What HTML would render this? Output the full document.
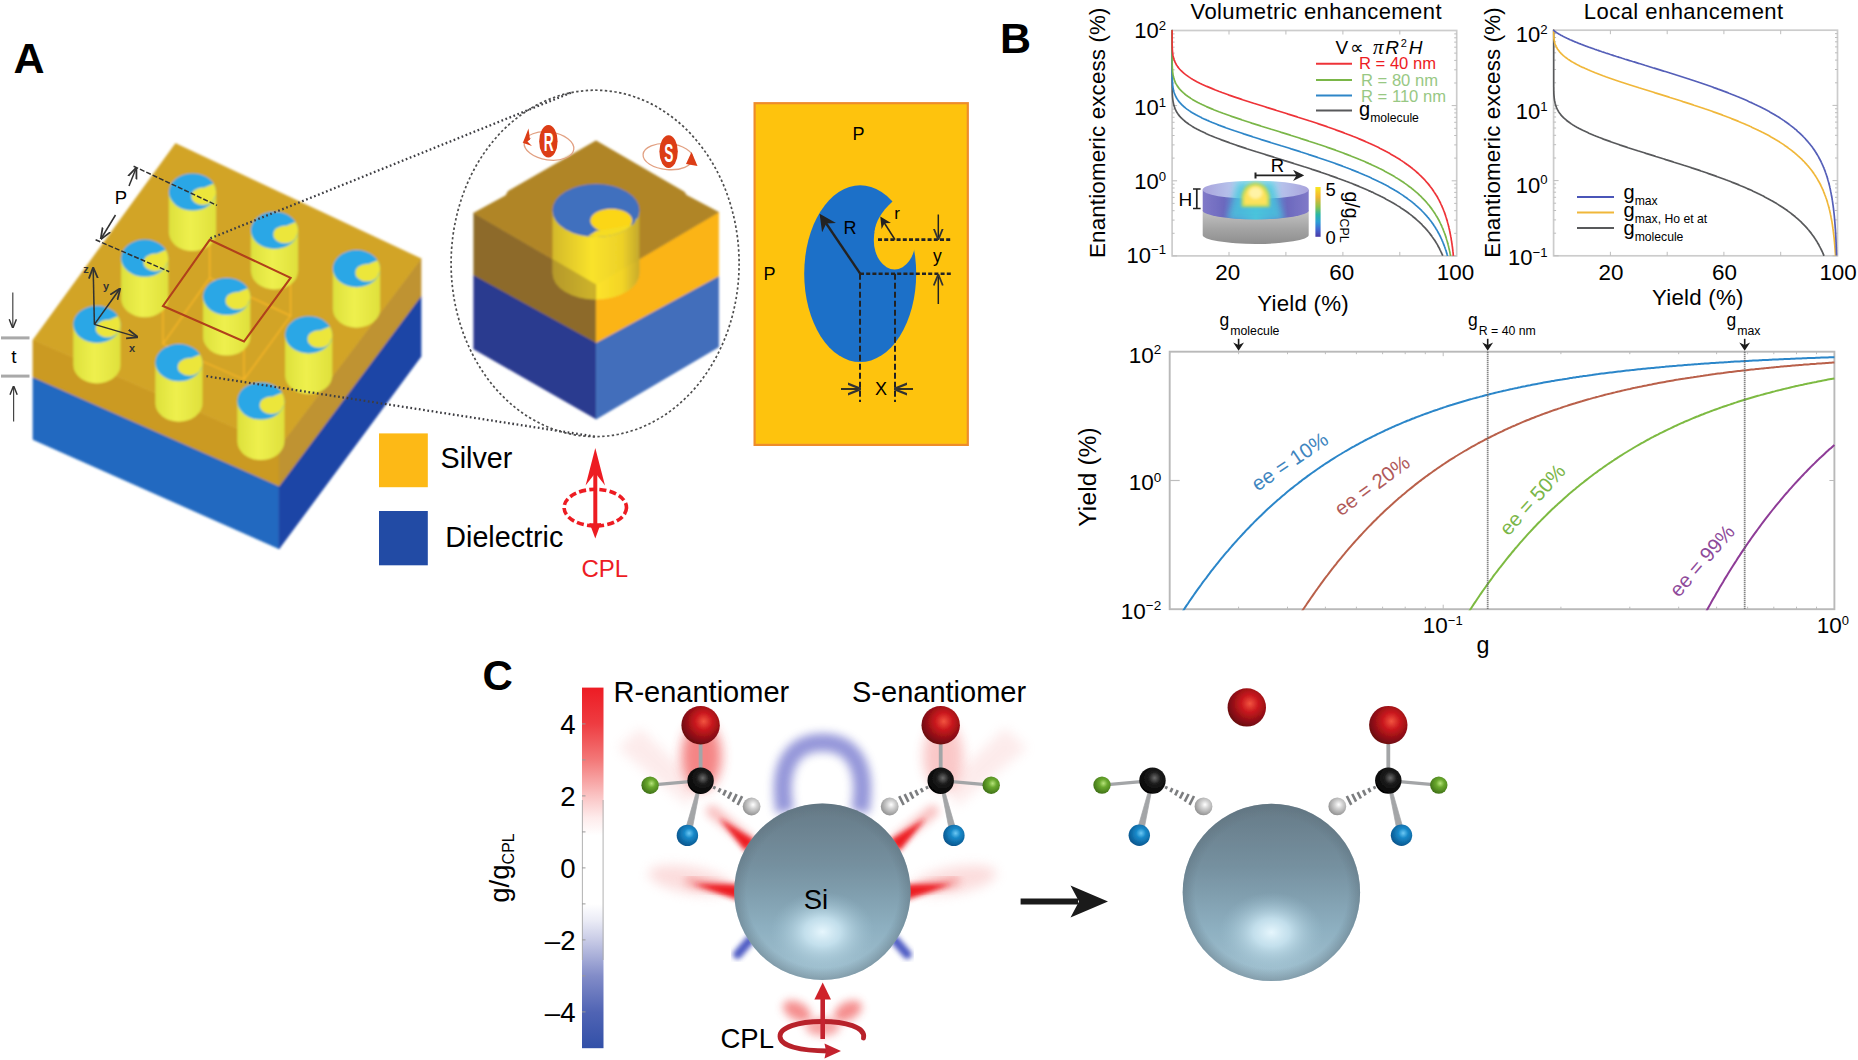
<!DOCTYPE html>
<html lang="en">
<head>
<meta charset="utf-8">
<title>Figure</title>
<style>
html,body{margin:0;padding:0;background:#fff;}
body{width:1858px;height:1060px;overflow:hidden;}
svg{display:block;font-family:'Liberation Sans', Arial, Helvetica, sans-serif;}
</style>
</head>
<body>
<svg width="1858" height="1060" viewBox="0 0 1858 1060">
<defs>
<filter id="blA" x="-5%" y="-5%" width="110%" height="110%"><feGaussianBlur stdDeviation="0.9"/></filter>
<filter id="blA2" x="-5%" y="-5%" width="110%" height="110%"><feGaussianBlur stdDeviation="0.5"/></filter>
<linearGradient id="cylg" x1="0" x2="1" y1="0" y2="0"><stop offset="0" stop-color="#dde03c"/><stop offset="0.45" stop-color="#eef04e"/><stop offset="1" stop-color="#dfe03c"/></linearGradient>
<linearGradient id="cylg2" x1="0" x2="1" y1="0" y2="0"><stop offset="0" stop-color="#d6bd2a"/><stop offset="0.45" stop-color="#ffea2c"/><stop offset="0.8" stop-color="#f2d728"/><stop offset="1" stop-color="#c4aa2e"/></linearGradient>
<marker id="arK" viewBox="0 0 10 10" refX="8" refY="5" markerWidth="7" markerHeight="7" orient="auto-start-reverse"><path d="M0,0 L10,5 L0,10 L3,5 Z" fill="#222"/></marker>
<marker id="arK2" viewBox="0 0 10 10" refX="8" refY="5" markerWidth="7.5" markerHeight="7.5" orient="auto-start-reverse"><path d="M0,1 L10,5 L0,9" fill="none" stroke="#333" stroke-width="1.6"/></marker>
<linearGradient id="dgray" x1="0" x2="0" y1="0" y2="1"><stop offset="0" stop-color="#c4c4c4"/><stop offset="0.55" stop-color="#a4a4a4"/><stop offset="1" stop-color="#8e8e8e"/></linearGradient>
<linearGradient id="dpurp" x1="0" x2="1" y1="0" y2="0"><stop offset="0" stop-color="#8079c8"/><stop offset="0.2" stop-color="#6c69be"/><stop offset="0.36" stop-color="#5a8fd6"/><stop offset="0.5" stop-color="#52c2dc"/><stop offset="0.64" stop-color="#5a8fd6"/><stop offset="0.8" stop-color="#6c69be"/><stop offset="1" stop-color="#8079c8"/></linearGradient>
<linearGradient id="dtop" x1="0" x2="1" y1="0" y2="0"><stop offset="0" stop-color="#a9a3dc"/><stop offset="0.25" stop-color="#b5c0ea"/><stop offset="0.36" stop-color="#9fdcf0"/><stop offset="0.5" stop-color="#b6e7e4"/><stop offset="0.64" stop-color="#9fdcf0"/><stop offset="0.75" stop-color="#b5c0ea"/><stop offset="1" stop-color="#a9a3dc"/></linearGradient>
<radialGradient id="dhot" cx="0.5" cy="0.55" r="0.5"><stop offset="0" stop-color="#fff6a0"/><stop offset="0.45" stop-color="#fbe04e"/><stop offset="0.7" stop-color="#c9dc52" stop-opacity="0.95"/><stop offset="1" stop-color="#4fc4c0" stop-opacity="0"/></radialGradient>
<linearGradient id="parula" x1="0" x2="0" y1="0" y2="1"><stop offset="0" stop-color="#f9e721"/><stop offset="0.2" stop-color="#f2b632"/><stop offset="0.4" stop-color="#8cc24c"/><stop offset="0.55" stop-color="#2bb7a4"/><stop offset="0.7" stop-color="#2d9fd6"/><stop offset="0.85" stop-color="#4267d2"/><stop offset="1" stop-color="#4b3aa6"/></linearGradient>
<filter id="blB" x="-5%" y="-10%" width="110%" height="120%"><feGaussianBlur stdDeviation="0.6"/></filter>
<filter id="blB3" x="-20%" y="-20%" width="140%" height="140%"><feGaussianBlur stdDeviation="1.1"/></filter>
<filter id="blB4" x="-30%" y="-30%" width="160%" height="160%"><feGaussianBlur stdDeviation="3"/></filter>
<filter id="blB2" x="-20%" y="-20%" width="140%" height="140%"><feGaussianBlur stdDeviation="1.6"/></filter>
<linearGradient id="rwb" x1="0" x2="0" y1="0" y2="1"><stop offset="0" stop-color="#ed1c24"/><stop offset="0.1" stop-color="#ee3c41"/><stop offset="0.2" stop-color="#f37878"/><stop offset="0.3" stop-color="#fac3c3"/><stop offset="0.36" stop-color="#feebeb"/><stop offset="0.41" stop-color="#ffffff"/><stop offset="0.6" stop-color="#ffffff"/><stop offset="0.645" stop-color="#ebecf6"/><stop offset="0.7" stop-color="#c8cbe6"/><stop offset="0.8" stop-color="#828cc8"/><stop offset="0.9" stop-color="#5064b4"/><stop offset="1" stop-color="#3250a8"/></linearGradient>
<filter id="blC" x="-5%" y="-5%" width="110%" height="110%"><feGaussianBlur stdDeviation="0.6"/></filter>
<filter id="glow4" x="-50%" y="-50%" width="200%" height="200%"><feGaussianBlur stdDeviation="4"/></filter>
<filter id="glow5" x="-50%" y="-50%" width="200%" height="200%"><feGaussianBlur stdDeviation="5"/></filter>
<filter id="glow6" x="-50%" y="-50%" width="200%" height="200%"><feGaussianBlur stdDeviation="6"/></filter>
<filter id="glow25" x="-50%" y="-50%" width="200%" height="200%"><feGaussianBlur stdDeviation="2.5"/></filter>
<linearGradient id="sphL" x1="0" x2="0" y1="0" y2="1"><stop offset="0" stop-color="#667a87"/><stop offset="0.35" stop-color="#75909f"/><stop offset="0.7" stop-color="#8dafc0"/><stop offset="1" stop-color="#a3c3d2"/></linearGradient>
<radialGradient id="sphH" cx="0.5" cy="0.5" r="0.5"><stop offset="0" stop-color="#e6f6fd" stop-opacity="1"/><stop offset="0.35" stop-color="#cfeaf6" stop-opacity="0.8"/><stop offset="1" stop-color="#9fc2d2" stop-opacity="0"/></radialGradient>
<radialGradient id="sphE" cx="0.5" cy="0.5" r="0.5"><stop offset="0.86" stop-color="#5d707c" stop-opacity="0"/><stop offset="1" stop-color="#5d707c" stop-opacity="0.45"/></radialGradient>
<radialGradient id="bRed" cx="0.58" cy="0.40" r="0.66"><stop offset="0" stop-color="#f2543f"/><stop offset="0.35" stop-color="#c8161d"/><stop offset="1" stop-color="#5e0a0e"/></radialGradient>
<radialGradient id="bBlk" cx="0.58" cy="0.40" r="0.66"><stop offset="0" stop-color="#6b6b6b"/><stop offset="0.35" stop-color="#1c1c1c"/><stop offset="1" stop-color="#000000"/></radialGradient>
<radialGradient id="bGrn" cx="0.58" cy="0.40" r="0.66"><stop offset="0" stop-color="#b6e27a"/><stop offset="0.35" stop-color="#6aa92e"/><stop offset="1" stop-color="#3a6a14"/></radialGradient>
<radialGradient id="bBlu" cx="0.58" cy="0.40" r="0.66"><stop offset="0" stop-color="#6cc8f4"/><stop offset="0.35" stop-color="#1688c8"/><stop offset="1" stop-color="#0a4f86"/></radialGradient>
<radialGradient id="bWht" cx="0.58" cy="0.40" r="0.66"><stop offset="0" stop-color="#ffffff"/><stop offset="0.35" stop-color="#d2d2d2"/><stop offset="1" stop-color="#8a8a8a"/></radialGradient>
<linearGradient id="lobeL" x1="1" x2="0" y1="0" y2="0"><stop offset="0" stop-color="#ed1c24" stop-opacity="1"/><stop offset="0.3" stop-color="#ee3a40" stop-opacity="0.9"/><stop offset="0.65" stop-color="#f59a9a" stop-opacity="0.55"/><stop offset="1" stop-color="#fbd5d5" stop-opacity="0"/></linearGradient>
</defs>
<rect x="0" y="0" width="1858" height="1060" fill="#ffffff"/>
<text x="13.5" y="73.0" font-size="43.0" fill="#000" font-weight="bold" >A</text>
<g filter="url(#blA)">
<polygon points="33.0,377.0 279.1,486.0 279.1,548.8 33.0,439.5" fill="#2469c0" stroke="#2469c0" stroke-width="0.7" stroke-linejoin="round" />
<polygon points="279.1,486.0 421.0,296.0 421.0,356.5 279.1,548.8" fill="#1d45a6" stroke="#1d45a6" stroke-width="0.7" stroke-linejoin="round" />
<polygon points="33.0,340.0 279.1,447.0 279.1,486.0 33.0,377.0" fill="#cb9a20" stroke="#cb9a20" stroke-width="0.7" stroke-linejoin="round" />
<polygon points="279.1,447.0 421.0,258.7 421.0,296.0 279.1,486.0" fill="#bf9330" stroke="#bf9330" stroke-width="0.7" stroke-linejoin="round" />
<polygon points="175.5,143.5 421.0,258.7 279.1,447.0 33.0,340.0" fill="#d2a427" stroke="#d2a427" stroke-width="0.7" stroke-linejoin="round" />
<g stroke="#fbb829" stroke-width="1.3" fill="none" opacity="0.95">
<polygon points="209.7,277.8 290.6,315.8 244.0,379.5 163.0,344.0"/>
<line x1="209.7" y1="239.8" x2="209.7" y2="277.8"/>
<line x1="290.6" y1="277.8" x2="290.6" y2="315.8"/>
<line x1="244.0" y1="341.5" x2="244.0" y2="379.5"/>
<line x1="163.0" y1="306.0" x2="163.0" y2="344.0"/>
</g>
<path d="M168.9,192.0 L168.9,232.5 A23.6,18.6 0 0 0 216.1,232.5 L216.1,192.0 Z" fill="url(#cylg)"/>
<ellipse cx="192.5" cy="192.0" rx="23.6" ry="18.6" fill="#2aa7e6"/>
<clipPath id="ct2117"><ellipse cx="192.5" cy="192.0" rx="23.6" ry="18.6"/></clipPath>
<g clip-path="url(#ct2117)"><ellipse cx="203.0" cy="196.2" rx="11.6" ry="8.8" fill="#ece63a"/><path d="M204.5,187.5 L222.5,180.0 L222.5,197.0 L208.5,197.0 Z" fill="#ece63a"/></g>
<path d="M250.9,230.3 L250.9,270.8 A23.6,18.6 0 0 0 298.1,270.8 L298.1,230.3 Z" fill="url(#cylg)"/>
<ellipse cx="274.5" cy="230.3" rx="23.6" ry="18.6" fill="#2aa7e6"/>
<clipPath id="ct2975"><ellipse cx="274.5" cy="230.3" rx="23.6" ry="18.6"/></clipPath>
<g clip-path="url(#ct2975)"><ellipse cx="285.0" cy="234.5" rx="11.6" ry="8.8" fill="#ece63a"/><path d="M286.5,225.8 L304.5,218.3 L304.5,235.3 L290.5,235.3 Z" fill="#ece63a"/></g>
<path d="M121.1,258.2 L121.1,298.7 A23.6,18.6 0 0 0 168.3,298.7 L168.3,258.2 Z" fill="url(#cylg)"/>
<ellipse cx="144.7" cy="258.2" rx="23.6" ry="18.6" fill="#2aa7e6"/>
<clipPath id="ct1705"><ellipse cx="144.7" cy="258.2" rx="23.6" ry="18.6"/></clipPath>
<g clip-path="url(#ct1705)"><ellipse cx="155.2" cy="262.4" rx="11.6" ry="8.8" fill="#ece63a"/><path d="M156.7,253.7 L174.7,246.2 L174.7,263.2 L160.7,263.2 Z" fill="#ece63a"/></g>
<path d="M332.9,268.6 L332.9,309.1 A23.6,18.6 0 0 0 380.1,309.1 L380.1,268.6 Z" fill="url(#cylg)"/>
<ellipse cx="356.5" cy="268.6" rx="23.6" ry="18.6" fill="#2aa7e6"/>
<clipPath id="ct3833"><ellipse cx="356.5" cy="268.6" rx="23.6" ry="18.6"/></clipPath>
<g clip-path="url(#ct3833)"><ellipse cx="367.0" cy="272.8" rx="11.6" ry="8.8" fill="#ece63a"/><path d="M368.5,264.1 L386.5,256.6 L386.5,273.6 L372.5,273.6 Z" fill="#ece63a"/></g>
<path d="M203.1,296.5 L203.1,337.0 A23.6,18.6 0 0 0 250.3,337.0 L250.3,296.5 Z" fill="url(#cylg)"/>
<ellipse cx="226.7" cy="296.5" rx="23.6" ry="18.6" fill="#2aa7e6"/>
<clipPath id="ct2563"><ellipse cx="226.7" cy="296.5" rx="23.6" ry="18.6"/></clipPath>
<g clip-path="url(#ct2563)"><ellipse cx="237.2" cy="300.7" rx="11.6" ry="8.8" fill="#ece63a"/><path d="M238.7,292.0 L256.7,284.5 L256.7,301.5 L242.7,301.5 Z" fill="#ece63a"/></g>
<path d="M73.3,324.4 L73.3,364.9 A23.6,18.6 0 0 0 120.5,364.9 L120.5,324.4 Z" fill="url(#cylg)"/>
<ellipse cx="96.9" cy="324.4" rx="23.6" ry="18.6" fill="#2aa7e6"/>
<clipPath id="ct1293"><ellipse cx="96.9" cy="324.4" rx="23.6" ry="18.6"/></clipPath>
<g clip-path="url(#ct1293)"><ellipse cx="107.4" cy="328.6" rx="11.6" ry="8.8" fill="#ece63a"/><path d="M108.9,319.9 L126.9,312.4 L126.9,329.4 L112.9,329.4 Z" fill="#ece63a"/></g>
<path d="M285.1,334.8 L285.1,375.3 A23.6,18.6 0 0 0 332.3,375.3 L332.3,334.8 Z" fill="url(#cylg)"/>
<ellipse cx="308.7" cy="334.8" rx="23.6" ry="18.6" fill="#2aa7e6"/>
<clipPath id="ct3421"><ellipse cx="308.7" cy="334.8" rx="23.6" ry="18.6"/></clipPath>
<g clip-path="url(#ct3421)"><ellipse cx="319.2" cy="339.0" rx="11.6" ry="8.8" fill="#ece63a"/><path d="M320.7,330.3 L338.7,322.8 L338.7,339.8 L324.7,339.8 Z" fill="#ece63a"/></g>
<path d="M155.3,362.7 L155.3,403.2 A23.6,18.6 0 0 0 202.5,403.2 L202.5,362.7 Z" fill="url(#cylg)"/>
<ellipse cx="178.9" cy="362.7" rx="23.6" ry="18.6" fill="#2aa7e6"/>
<clipPath id="ct2151"><ellipse cx="178.9" cy="362.7" rx="23.6" ry="18.6"/></clipPath>
<g clip-path="url(#ct2151)"><ellipse cx="189.4" cy="366.9" rx="11.6" ry="8.8" fill="#ece63a"/><path d="M190.9,358.2 L208.9,350.7 L208.9,367.7 L194.9,367.7 Z" fill="#ece63a"/></g>
<path d="M237.3,401.0 L237.3,441.5 A23.6,18.6 0 0 0 284.5,441.5 L284.5,401.0 Z" fill="url(#cylg)"/>
<ellipse cx="260.9" cy="401.0" rx="23.6" ry="18.6" fill="#2aa7e6"/>
<clipPath id="ct3010"><ellipse cx="260.9" cy="401.0" rx="23.6" ry="18.6"/></clipPath>
<g clip-path="url(#ct3010)"><ellipse cx="271.4" cy="405.2" rx="11.6" ry="8.8" fill="#ece63a"/><path d="M272.9,396.5 L290.9,389.0 L290.9,406.0 L276.9,406.0 Z" fill="#ece63a"/></g>
</g>
<g filter="url(#blA2)">
<polygon points="209.7,239.8 290.6,277.8 244.0,341.5 163.0,306.0" fill="none" stroke="#b0401a" stroke-width="2.1"/>
<g stroke="#303030" stroke-width="1.5" fill="none">
<line x1="133.6" y1="166.2" x2="217" y2="205.4" stroke-dasharray="5 2"/>
<line x1="95.6" y1="239.8" x2="169.2" y2="271.7" stroke-dasharray="5 2"/>
<line x1="129" y1="186" x2="135.6" y2="169.5" marker-end="url(#arK2)"/>
<line x1="115.5" y1="215" x2="101.8" y2="237.5" marker-end="url(#arK2)"/>
<line x1="94.4" y1="324.4" x2="93.2" y2="269.5" marker-end="url(#arK2)"/>
<line x1="94.4" y1="324.4" x2="119" y2="290" marker-end="url(#arK2)"/>
<line x1="94.4" y1="324.4" x2="136" y2="336.6" marker-end="url(#arK2)"/>
</g>
</g>
<text x="120.9" y="203.6" font-size="18.5" fill="#000" text-anchor="middle" >P</text>
<text x="86.0" y="273.0" font-size="11.0" fill="#333" text-anchor="middle" font-weight="bold" >z</text>
<text x="106.0" y="290.0" font-size="11.0" fill="#333" text-anchor="middle" font-weight="bold" >y</text>
<text x="132.0" y="352.0" font-size="11.0" fill="#333" text-anchor="middle" font-weight="bold" >x</text>
<g filter="url(#blA2)">
<rect x="1" y="336.4" width="28.5" height="3" fill="#a9a9a9"/>
<rect x="1" y="374.6" width="28.5" height="3" fill="#a9a9a9"/>
<g stroke="#444" stroke-width="1.2" fill="none">
<line x1="12.8" y1="292.5" x2="12.8" y2="326.5" marker-end="url(#arK2)"/>
<line x1="13.6" y1="421.5" x2="13.6" y2="387.5" marker-end="url(#arK2)"/>
</g></g>
<text x="14.0" y="362.5" font-size="19.0" fill="#000" text-anchor="middle" >t</text>
<g fill="none" stroke="#3d3d42" stroke-width="2.3" stroke-dasharray="1.7 2.6" filter="url(#blA2)">
<path d="M210.4,238.3 L572.5,92.1"/>
<path d="M206.4,376.2 L595,436.6"/>
</g>
<ellipse cx="595.1" cy="263.4" rx="144" ry="173.2" fill="none" stroke="#4d4d4d" stroke-width="1.7" stroke-dasharray="2.4 2.4" filter="url(#blA2)"/>
<g filter="url(#blA)">
<polygon points="473.8,275.0 596.2,342.5 596.2,419.0 473.8,349.0" fill="#2b3a8f" stroke="#2b3a8f" stroke-width="0.7" stroke-linejoin="round" />
<polygon points="596.2,342.5 718.6,276.0 718.6,347.0 596.2,419.0" fill="#426ebb" stroke="#426ebb" stroke-width="0.7" stroke-linejoin="round" />
<polygon points="473.8,213.0 596.2,284.5 596.2,342.5 473.8,275.0" fill="#8d6b29" stroke="#8d6b29" stroke-width="0.7" stroke-linejoin="round" />
<polygon points="596.2,284.5 718.6,212.2 718.6,276.0 596.2,342.5" fill="#fbb419" stroke="#fbb419" stroke-width="0.7" stroke-linejoin="round" />
<polygon points="596.0,140.8 684.3,192.0 686.4,195.2 718.6,212.2 596.2,284.5 473.8,213.0 505.8,195.6 508.2,191.2" fill="#b08526" stroke="#b08526" stroke-width="0.7" stroke-linejoin="round" />
<path d="M552.5,210.5 L552.5,273.0 A43.5,26.5 0 0 0 639.5,273.0 L639.5,210.5 Z" fill="url(#cylg2)" opacity="0.93"/>
<clipPath id="cubeL"><polygon points="473.8,213.0 596.2,284.5 596.2,342.5 473.8,275.0"/></clipPath>
<clipPath id="cubeR"><polygon points="596.2,284.5 718.6,212.2 718.6,276.0 596.2,342.5"/></clipPath>
<path clip-path="url(#cubeL)" d="M552.5,210.5 L552.5,273.0 A43.5,26.5 0 0 0 639.5,273.0 L639.5,210.5 Z" fill="#8d6b29" opacity="0.4"/>
<ellipse cx="596.0" cy="210.5" rx="43.5" ry="26.5" fill="#3f6fbe"/>
<clipPath id="cubeTop"><ellipse cx="596.0" cy="210.5" rx="43.5" ry="26.5"/></clipPath>
<g clip-path="url(#cubeTop)">
<ellipse cx="611.3" cy="220.6" rx="21" ry="11.8" fill="#fbd618"/>
<path d="M596,231 L634,224.5 L636,219 L645,219 L645,245 L575,245 Z" fill="#f6dc24"/>
</g>
</g>
<g filter="url(#blA2)">
<ellipse cx="549" cy="146" rx="25" ry="14" fill="none" stroke="#e2a183" stroke-width="1.3" transform="rotate(8 549 146)"/>
<ellipse cx="548.4" cy="141.3" rx="9.2" ry="16.3" fill="#dc3c14"/>
<path d="M528.5,128.5 L530,139.8 L523,142.5 Z" fill="#dc3c14"/><path d="M522.5,142.8 L531.5,137.5 L527.5,141.5 L532,146 Z" fill="#dc3c14"/>
<ellipse cx="668" cy="156.6" rx="25" ry="13" fill="none" stroke="#e2a183" stroke-width="1.3" transform="rotate(5 668 156.6)"/>
<ellipse cx="668.6" cy="151.6" rx="9.2" ry="16.3" fill="#dc3c14"/>
<path d="M691.5,152 L697.5,166 L686,164 Z" fill="#dc3c14"/>
</g>
<text x="548.6" y="151.5" font-size="25.0" fill="#fff" text-anchor="middle" font-weight="bold" transform="translate(548.6 0) scale(0.55 1) translate(-548.6 0)">R</text>
<text x="668.8" y="162.0" font-size="25.0" fill="#fff" text-anchor="middle" font-weight="bold" transform="translate(668.8 0) scale(0.55 1) translate(-668.8 0)">S</text>
<rect x="379" y="433.4" width="48.8" height="53.8" fill="#fdb913" filter="url(#blA2)"/>
<rect x="379" y="511" width="48.8" height="54.3" fill="#234ba5" filter="url(#blA2)"/>
<text x="440.5" y="467.6" font-size="28.7" fill="#000" >Silver</text>
<text x="445.3" y="546.6" font-size="28.7" fill="#000" >Dielectric</text>
<g filter="url(#blA2)">
<ellipse cx="595.3" cy="507.6" rx="31.2" ry="18.3" fill="none" stroke="#ed1c24" stroke-width="3.6" stroke-dasharray="7 3.2"/>
<line x1="595.3" y1="468" x2="595.3" y2="527" stroke="#ed1c24" stroke-width="4"/><line x1="589.5" y1="524.5" x2="601" y2="524.5" stroke="#ed1c24" stroke-width="2.5"/>
<path d="M595.3,448 L605,485.5 L595.3,473 L585.6,485.5 Z" fill="#ed1c24"/>
<path d="M595.3,538.5 L589.5,523 L595.3,526 L601,523 Z" fill="#ed1c24"/>
</g>
<text x="581.5" y="576.6" font-size="24.0" fill="#ed1c24" >CPL</text>
<g filter="url(#blA2)">
<rect x="754.6" y="103.2" width="213.2" height="341.7" fill="#fec311" stroke="#ee8c2c" stroke-width="2.2"/>
<ellipse cx="860.2" cy="273.7" rx="56" ry="88.4" fill="#1f70c8"/>
<clipPath id="notch"><ellipse cx="860.2" cy="273.7" rx="58" ry="91"/></clipPath>
<ellipse cx="894.6" cy="239.9" rx="20.8" ry="29.6" fill="#fec311"/>
<path d="M874.5,232 C875.5,222 881,212 892.5,201.5 L935,201.5 L935,246 L895,246 Z" fill="#fec311"/>
<g stroke="#222" stroke-width="2" fill="none">
<line x1="878" y1="239.6" x2="952" y2="239.6" stroke-dasharray="4 2.2" stroke-width="2.6"/>
<line x1="860" y1="273.7" x2="952" y2="273.7" stroke-dasharray="4 2.2" stroke-width="2.6"/>
<line x1="860" y1="273.7" x2="860" y2="402" stroke-dasharray="6 3" stroke-width="2"/>
<line x1="895" y1="273.7" x2="895" y2="402" stroke-dasharray="6 3" stroke-width="2"/>
<line x1="860.2" y1="273.7" x2="821.5" y2="216.5" stroke-width="2.4" marker-end="url(#arK)"/>
<line x1="895" y1="239.6" x2="881.5" y2="218.5" stroke-width="1.6" marker-end="url(#arK)"/>
<line x1="938.3" y1="214.5" x2="938.3" y2="237.5" stroke-width="1.5" marker-end="url(#arK2)"/>
<line x1="938.3" y1="304" x2="938.3" y2="276.5" stroke-width="1.5" marker-end="url(#arK2)"/>
<line x1="841" y1="389" x2="858.5" y2="389" stroke-width="1.8" marker-end="url(#arK2)"/>
<line x1="913" y1="389" x2="896.5" y2="389" stroke-width="1.8" marker-end="url(#arK2)"/>
</g>
</g>
<text x="858.4" y="139.6" font-size="18.0" fill="#000" text-anchor="middle" >P</text>
<text x="769.4" y="280.2" font-size="18.0" fill="#000" text-anchor="middle" >P</text>
<text x="850.0" y="233.5" font-size="18.0" fill="#000" text-anchor="middle" >R</text>
<text x="897.0" y="218.5" font-size="17.0" fill="#000" text-anchor="middle" >r</text>
<text x="937.3" y="261.5" font-size="17.5" fill="#000" text-anchor="middle" >y</text>
<text x="881.0" y="395.3" font-size="18.0" fill="#000" text-anchor="middle" >X</text>
<text x="1000.0" y="53.0" font-size="43.0" fill="#000" font-weight="bold" >B</text>
<rect x="1172.1" y="30.5" width="284.6" height="225.4" fill="none" stroke="#cccccc" stroke-width="1.7"/>
<path d="M1172.1,255.9 h5.0 M1456.7,255.9 h-5.0 M1172.1,233.3 h2.5 M1456.7,233.3 h-2.5 M1172.1,220.1 h2.5 M1456.7,220.1 h-2.5 M1172.1,210.7 h2.5 M1456.7,210.7 h-2.5 M1172.1,203.4 h2.5 M1456.7,203.4 h-2.5 M1172.1,197.4 h2.5 M1456.7,197.4 h-2.5 M1172.1,192.4 h2.5 M1456.7,192.4 h-2.5 M1172.1,188.0 h2.5 M1456.7,188.0 h-2.5 M1172.1,184.2 h2.5 M1456.7,184.2 h-2.5 M1172.1,180.8 h5.0 M1456.7,180.8 h-5.0 M1172.1,158.1 h2.5 M1456.7,158.1 h-2.5 M1172.1,144.9 h2.5 M1456.7,144.9 h-2.5 M1172.1,135.5 h2.5 M1456.7,135.5 h-2.5 M1172.1,128.3 h2.5 M1456.7,128.3 h-2.5 M1172.1,122.3 h2.5 M1456.7,122.3 h-2.5 M1172.1,117.3 h2.5 M1456.7,117.3 h-2.5 M1172.1,112.9 h2.5 M1456.7,112.9 h-2.5 M1172.1,109.1 h2.5 M1456.7,109.1 h-2.5 M1172.1,105.6 h5.0 M1456.7,105.6 h-5.0 M1172.1,83.0 h2.5 M1456.7,83.0 h-2.5 M1172.1,69.8 h2.5 M1456.7,69.8 h-2.5 M1172.1,60.4 h2.5 M1456.7,60.4 h-2.5 M1172.1,53.1 h2.5 M1456.7,53.1 h-2.5 M1172.1,47.2 h2.5 M1456.7,47.2 h-2.5 M1172.1,42.1 h2.5 M1456.7,42.1 h-2.5 M1172.1,37.8 h2.5 M1456.7,37.8 h-2.5 M1172.1,33.9 h2.5 M1456.7,33.9 h-2.5" stroke="#bdbdbd" stroke-width="1" fill="none"/>
<path d="M1229.0,255.9 v-4 M1229.0,30.5 v4 M1285.9,255.9 v-4 M1285.9,30.5 v4 M1342.9,255.9 v-4 M1342.9,30.5 v4 M1399.8,255.9 v-4 M1399.8,30.5 v4" stroke="#bdbdbd" stroke-width="1" fill="none"/>
<clipPath id="cp1172"><rect x="1171.1" y="29.5" width="287.6" height="226.9"/></clipPath>
<g clip-path="url(#cp1172)" fill="none" stroke-width="1.7" stroke-linejoin="round">
<path d="M1442.8,255.8 L1442.6,255.3 L1442.3,254.8 L1442.1,254.2 L1441.9,253.7 L1441.7,253.2 L1441.4,252.7 L1441.2,252.2 L1440.9,251.6 L1440.7,251.1 L1440.4,250.6 L1440.2,250.1 L1439.9,249.6 L1439.7,249.1 L1439.4,248.5 L1439.2,248.0 L1438.9,247.5 L1438.6,247.0 L1438.3,246.5 L1438.0,246.0 L1437.8,245.4 L1437.5,244.9 L1437.2,244.4 L1436.9,243.9 L1436.6,243.4 L1436.2,242.8 L1435.9,242.3 L1435.6,241.8 L1435.3,241.3 L1435.0,240.8 L1434.6,240.3 L1434.3,239.7 L1433.9,239.2 L1433.6,238.7 L1433.2,238.2 L1432.9,237.7 L1432.5,237.2 L1432.1,236.6 L1431.8,236.1 L1431.4,235.6 L1431.0,235.1 L1430.6,234.6 L1430.2,234.1 L1429.8,233.5 L1429.4,233.0 L1429.0,232.5 L1428.6,232.0 L1428.1,231.5 L1427.7,230.9 L1427.3,230.4 L1426.8,229.9 L1426.4,229.4 L1425.9,228.9 L1425.5,228.4 L1425.0,227.8 L1424.5,227.3 L1424.0,226.8 L1423.5,226.3 L1423.0,225.8 L1422.5,225.3 L1422.0,224.7 L1421.5,224.2 L1421.0,223.7 L1420.4,223.2 L1419.9,222.7 L1419.4,222.1 L1418.8,221.6 L1418.2,221.1 L1417.7,220.6 L1417.1,220.1 L1416.5,219.6 L1415.9,219.0 L1415.3,218.5 L1414.7,218.0 L1414.1,217.5 L1413.4,217.0 L1412.8,216.5 L1412.2,215.9 L1411.5,215.4 L1410.9,214.9 L1410.2,214.4 L1409.5,213.9 L1408.8,213.3 L1408.1,212.8 L1407.4,212.3 L1406.7,211.8 L1406.0,211.3 L1405.2,210.8 L1404.5,210.2 L1403.8,209.7 L1403.0,209.2 L1402.2,208.7 L1401.4,208.2 L1400.7,207.7 L1399.9,207.1 L1399.0,206.6 L1398.2,206.1 L1397.4,205.6 L1396.6,205.1 L1395.7,204.5 L1394.8,204.0 L1394.0,203.5 L1393.1,203.0 L1392.2,202.5 L1391.3,202.0 L1390.4,201.4 L1389.5,200.9 L1388.5,200.4 L1387.6,199.9 L1386.6,199.4 L1385.7,198.9 L1384.7,198.3 L1383.7,197.8 L1382.7,197.3 L1381.7,196.8 L1380.6,196.3 L1379.6,195.7 L1378.6,195.2 L1377.5,194.7 L1376.4,194.2 L1375.4,193.7 L1374.3,193.2 L1373.2,192.6 L1372.1,192.1 L1370.9,191.6 L1369.8,191.1 L1368.6,190.6 L1367.5,190.1 L1366.3,189.5 L1365.1,189.0 L1363.9,188.5 L1362.7,188.0 L1361.5,187.5 L1360.3,187.0 L1359.0,186.4 L1357.8,185.9 L1356.5,185.4 L1355.3,184.9 L1354.0,184.4 L1352.7,183.8 L1351.4,183.3 L1350.0,182.8 L1348.7,182.3 L1347.4,181.8 L1346.0,181.3 L1344.7,180.7 L1343.3,180.2 L1341.9,179.7 L1340.5,179.2 L1339.1,178.7 L1337.7,178.2 L1336.2,177.6 L1334.8,177.1 L1333.4,176.6 L1331.9,176.1 L1330.4,175.6 L1329.0,175.0 L1327.5,174.5 L1326.0,174.0 L1324.5,173.5 L1323.0,173.0 L1321.4,172.5 L1319.9,171.9 L1318.4,171.4 L1316.8,170.9 L1315.3,170.4 L1313.7,169.9 L1312.1,169.4 L1310.5,168.8 L1309.0,168.3 L1307.4,167.8 L1305.8,167.3 L1304.2,166.8 L1302.5,166.2 L1300.9,165.7 L1299.3,165.2 L1297.7,164.7 L1296.1,164.2 L1294.4,163.7 L1292.8,163.1 L1291.1,162.6 L1289.5,162.1 L1287.8,161.6 L1286.2,161.1 L1284.5,160.6 L1282.9,160.0 L1281.2,159.5 L1279.6,159.0 L1277.9,158.5 L1276.2,158.0 L1274.6,157.5 L1272.9,156.9 L1271.3,156.4 L1269.6,155.9 L1267.9,155.4 L1266.3,154.9 L1264.6,154.3 L1263.0,153.8 L1261.3,153.3 L1259.7,152.8 L1258.1,152.3 L1256.4,151.8 L1254.8,151.2 L1253.2,150.7 L1251.6,150.2 L1250.0,149.7 L1248.4,149.2 L1246.8,148.7 L1245.2,148.1 L1243.6,147.6 L1242.1,147.1 L1240.5,146.6 L1239.0,146.1 L1237.5,145.6 L1235.9,145.0 L1234.4,144.5 L1232.9,144.0 L1231.5,143.5 L1230.0,143.0 L1228.5,142.4 L1227.1,141.9 L1225.7,141.4 L1224.3,140.9 L1222.9,140.4 L1221.5,139.9 L1220.1,139.3 L1218.8,138.8 L1217.4,138.3 L1216.1,137.8 L1214.8,137.3 L1213.6,136.8 L1212.3,136.2 L1211.1,135.7 L1209.8,135.2 L1208.6,134.7 L1207.5,134.2 L1206.3,133.7 L1205.2,133.1 L1204.1,132.6 L1203.0,132.1 L1201.9,131.6 L1200.8,131.1 L1199.8,130.6 L1198.8,130.0 L1197.8,129.5 L1196.8,129.0 L1195.9,128.5 L1194.9,128.0 L1194.0,127.5 L1193.2,126.9 L1192.3,126.4 L1191.5,125.9 L1190.7,125.4 L1189.9,124.9 L1189.1,124.4 L1188.3,123.8 L1187.6,123.3 L1186.9,122.8 L1186.2,122.3 L1185.6,121.8 L1184.9,121.3 L1184.3,120.7 L1183.7,120.2 L1183.1,119.7 L1182.6,119.2 L1182.0,118.7 L1181.5,118.2 L1181.0,117.6 L1180.5,117.1 L1180.1,116.6 L1179.6,116.1 L1179.2,115.6 L1178.8,115.1 L1178.4,114.6 L1178.0,114.0 L1177.7,113.5 L1177.3,113.0 L1177.0,112.5 L1176.7,112.0 L1176.4,111.5 L1176.1,110.9 L1175.9,110.4 L1175.6,109.9 L1175.4,109.4 L1175.2,108.9 L1174.9,108.4 L1174.7,107.9 L1174.6,107.3 L1174.4,106.8 L1174.2,106.3 L1174.0,105.8 L1173.9,105.3 L1173.8,104.8 L1173.6,104.3 L1173.5,103.7 L1173.4,103.2 L1173.3,102.7 L1173.2,102.2 L1173.1,101.7 L1173.0,101.2 L1172.9,100.7 L1172.9,100.1 L1172.8,99.6 L1172.7,99.1 L1172.7,98.6 L1172.6,98.1 L1172.6,97.6 L1172.5,97.1 L1172.5,96.6 L1172.4,96.1 L1172.4,95.5 L1172.4,95.0 L1172.3,94.5 L1172.3,94.0 L1172.3,93.5 L1172.3,93.0 L1172.3,92.5 L1172.2,92.0 L1172.2,91.5 L1172.2,90.9 L1172.2,90.4 L1172.2,89.9 L1172.2,89.4 L1172.2,88.9 L1172.2,88.4 L1172.1,87.9 L1172.1,87.4 L1172.1,86.9 L1172.1,86.4 L1172.1,85.9 L1172.1,85.4 L1172.1,84.9 L1172.1,84.4 L1172.1,83.9 L1172.1,83.3 L1172.1,82.8 L1172.1,82.3 L1172.1,81.8 L1172.1,81.3 L1172.1,80.8 L1172.1,80.3 L1172.1,79.8 L1172.1,79.3 L1172.1,78.8 L1172.1,78.3 L1172.1,77.8 L1172.1,77.3 L1172.1,76.8 L1172.1,76.3 L1172.1,75.8 L1172.1,75.4 L1172.1,74.9 L1172.1,74.4 L1172.1,73.9 L1172.1,73.4 L1172.1,72.9 L1172.1,72.4 L1172.1,71.9 L1172.1,71.4 L1172.1,70.9 L1172.1,70.4 L1172.1,69.9 L1172.1,69.5 L1172.1,69.0 L1172.1,68.5 L1172.1,68.0 L1172.1,67.5 L1172.1,67.1 L1172.1,66.6 L1172.1,66.1 L1172.1,65.6 L1172.1,65.1 L1172.1,64.7 L1172.1,64.2 L1172.1,63.7 L1172.1,63.2 L1172.1,62.8 L1172.1,62.3 L1172.1,61.8 L1172.1,61.4 L1172.1,60.9 L1172.1,60.5 L1172.1,60.0 L1172.1,59.5 L1172.1,59.1 L1172.1,58.6 L1172.1,58.2 L1172.1,57.7 L1172.1,57.3 L1172.1,56.8 L1172.1,56.4 L1172.1,55.9 L1172.1,55.5 L1172.1,55.1 L1172.1,54.6 L1172.1,54.2 L1172.1,53.8 L1172.1,53.3 L1172.1,52.9 L1172.1,52.5 L1172.1,52.1 L1172.1,51.6 L1172.1,51.2 L1172.1,50.8 L1172.1,50.4 L1172.1,50.0 L1172.1,49.6 L1172.1,49.2 L1172.1,48.8 L1172.1,48.4 L1172.1,48.0 L1172.1,47.6 L1172.1,47.2 L1172.1,46.8 L1172.1,46.5 L1172.1,46.1 L1172.1,45.7 L1172.1,45.4 L1172.1,45.0 L1172.1,44.6 L1172.1,44.3 L1172.1,43.9 L1172.1,43.6 L1172.1,43.2 L1172.1,42.9 L1172.1,42.6 L1172.1,42.2 L1172.1,41.9 L1172.1,41.6 L1172.1,41.3 L1172.1,41.0 L1172.1,40.6 L1172.1,40.3 L1172.1,40.0 L1172.1,39.8 L1172.1,39.5 L1172.1,39.2 L1172.1,38.9 L1172.1,38.6 L1172.1,38.4 L1172.1,38.1 L1172.1,37.8 L1172.1,37.6 L1172.1,37.3 L1172.1,37.1 L1172.1,36.8 L1172.1,36.6 L1172.1,36.4 L1172.1,36.2 L1172.1,35.9 L1172.1,35.7 L1172.1,35.5 L1172.1,35.3 L1172.1,35.1 L1172.1,34.9 L1172.1,34.7 L1172.1,34.6 L1172.1,34.4 L1172.1,34.2 L1172.1,34.0 L1172.1,33.9 L1172.1,33.7 L1172.1,33.6 L1172.1,33.4 L1172.1,33.3 L1172.1,33.1 L1172.1,33.0 L1172.1,32.9 L1172.1,32.8 L1172.1,32.6 L1172.1,32.5 L1172.1,32.4 L1172.1,32.3 L1172.1,32.2 L1172.1,32.1 L1172.1,32.0 L1172.1,31.9 L1172.1,31.9 L1172.1,31.8 L1172.1,31.7 L1172.1,31.6 L1172.1,31.5 L1172.1,31.5 L1172.1,31.4 L1172.1,31.4 L1172.1,31.3 L1172.1,31.2 L1172.1,31.2 L1172.1,31.1 L1172.1,31.1 L1172.1,31.1 L1172.1,31.0 L1172.1,31.0 L1172.1,30.9 L1172.1,30.9 L1172.1,30.9 L1172.1,30.8 L1172.1,30.8 L1172.1,30.8 L1172.1,30.8 L1172.1,30.7 L1172.1,30.7 L1172.1,30.7 L1172.1,30.7 L1172.1,30.7 L1172.1,30.7 L1172.1,30.6 L1172.1,30.6 L1172.1,30.6 L1172.7,30.5" stroke="#58595b"/>
<path d="M1447.5,256.0 L1447.4,255.5 L1447.3,255.0 L1447.1,254.4 L1447.0,253.9 L1446.8,253.4 L1446.6,252.9 L1446.5,252.4 L1446.3,251.9 L1446.2,251.3 L1446.0,250.8 L1445.8,250.3 L1445.7,249.8 L1445.5,249.3 L1445.3,248.7 L1445.1,248.2 L1445.0,247.7 L1444.8,247.2 L1444.6,246.7 L1444.4,246.2 L1444.2,245.6 L1444.0,245.1 L1443.8,244.6 L1443.6,244.1 L1443.4,243.6 L1443.2,243.1 L1443.0,242.5 L1442.8,242.0 L1442.6,241.5 L1442.3,241.0 L1442.1,240.5 L1441.9,239.9 L1441.7,239.4 L1441.4,238.9 L1441.2,238.4 L1440.9,237.9 L1440.7,237.4 L1440.5,236.8 L1440.2,236.3 L1439.9,235.8 L1439.7,235.3 L1439.4,234.8 L1439.2,234.3 L1438.9,233.7 L1438.6,233.2 L1438.3,232.7 L1438.0,232.2 L1437.8,231.7 L1437.5,231.2 L1437.2,230.6 L1436.9,230.1 L1436.6,229.6 L1436.2,229.1 L1435.9,228.6 L1435.6,228.0 L1435.3,227.5 L1435.0,227.0 L1434.6,226.5 L1434.3,226.0 L1433.9,225.5 L1433.6,224.9 L1433.2,224.4 L1432.9,223.9 L1432.5,223.4 L1432.1,222.9 L1431.8,222.4 L1431.4,221.8 L1431.0,221.3 L1430.6,220.8 L1430.2,220.3 L1429.8,219.8 L1429.4,219.2 L1429.0,218.7 L1428.6,218.2 L1428.1,217.7 L1427.7,217.2 L1427.3,216.7 L1426.8,216.1 L1426.4,215.6 L1425.9,215.1 L1425.5,214.6 L1425.0,214.1 L1424.5,213.6 L1424.0,213.0 L1423.5,212.5 L1423.0,212.0 L1422.5,211.5 L1422.0,211.0 L1421.5,210.4 L1421.0,209.9 L1420.4,209.4 L1419.9,208.9 L1419.4,208.4 L1418.8,207.9 L1418.2,207.3 L1417.7,206.8 L1417.1,206.3 L1416.5,205.8 L1415.9,205.3 L1415.3,204.8 L1414.7,204.2 L1414.1,203.7 L1413.4,203.2 L1412.8,202.7 L1412.2,202.2 L1411.5,201.6 L1410.9,201.1 L1410.2,200.6 L1409.5,200.1 L1408.8,199.6 L1408.1,199.1 L1407.4,198.5 L1406.7,198.0 L1406.0,197.5 L1405.2,197.0 L1404.5,196.5 L1403.8,196.0 L1403.0,195.4 L1402.2,194.9 L1401.4,194.4 L1400.7,193.9 L1399.9,193.4 L1399.0,192.8 L1398.2,192.3 L1397.4,191.8 L1396.6,191.3 L1395.7,190.8 L1394.8,190.3 L1394.0,189.7 L1393.1,189.2 L1392.2,188.7 L1391.3,188.2 L1390.4,187.7 L1389.5,187.2 L1388.5,186.6 L1387.6,186.1 L1386.6,185.6 L1385.7,185.1 L1384.7,184.6 L1383.7,184.1 L1382.7,183.5 L1381.7,183.0 L1380.7,182.5 L1379.6,182.0 L1378.6,181.5 L1377.5,180.9 L1376.5,180.4 L1375.4,179.9 L1374.3,179.4 L1373.2,178.9 L1372.1,178.4 L1370.9,177.8 L1369.8,177.3 L1368.7,176.8 L1367.5,176.3 L1366.3,175.8 L1365.1,175.3 L1363.9,174.7 L1362.7,174.2 L1361.5,173.7 L1360.3,173.2 L1359.1,172.7 L1357.8,172.1 L1356.5,171.6 L1355.3,171.1 L1354.0,170.6 L1352.7,170.1 L1351.4,169.6 L1350.1,169.0 L1348.7,168.5 L1347.4,168.0 L1346.0,167.5 L1344.7,167.0 L1343.3,166.5 L1341.9,165.9 L1340.5,165.4 L1339.1,164.9 L1337.7,164.4 L1336.3,163.9 L1334.8,163.3 L1333.4,162.8 L1331.9,162.3 L1330.4,161.8 L1329.0,161.3 L1327.5,160.8 L1326.0,160.2 L1324.5,159.7 L1323.0,159.2 L1321.4,158.7 L1319.9,158.2 L1318.4,157.7 L1316.8,157.1 L1315.3,156.6 L1313.7,156.1 L1312.1,155.6 L1310.6,155.1 L1309.0,154.6 L1307.4,154.0 L1305.8,153.5 L1304.2,153.0 L1302.6,152.5 L1301.0,152.0 L1299.3,151.4 L1297.7,150.9 L1296.1,150.4 L1294.4,149.9 L1292.8,149.4 L1291.2,148.9 L1289.5,148.3 L1287.9,147.8 L1286.2,147.3 L1284.6,146.8 L1282.9,146.3 L1281.2,145.8 L1279.6,145.2 L1277.9,144.7 L1276.3,144.2 L1274.6,143.7 L1272.9,143.2 L1271.3,142.7 L1269.6,142.1 L1268.0,141.6 L1266.3,141.1 L1264.7,140.6 L1263.0,140.1 L1261.4,139.6 L1259.7,139.0 L1258.1,138.5 L1256.5,138.0 L1254.9,137.5 L1253.2,137.0 L1251.6,136.4 L1250.0,135.9 L1248.4,135.4 L1246.8,134.9 L1245.3,134.4 L1243.7,133.9 L1242.1,133.3 L1240.6,132.8 L1239.0,132.3 L1237.5,131.8 L1236.0,131.3 L1234.5,130.8 L1233.0,130.2 L1231.5,129.7 L1230.0,129.2 L1228.6,128.7 L1227.1,128.2 L1225.7,127.7 L1224.3,127.1 L1222.9,126.6 L1221.5,126.1 L1220.2,125.6 L1218.8,125.1 L1217.5,124.6 L1216.2,124.0 L1214.9,123.5 L1213.6,123.0 L1212.3,122.5 L1211.1,122.0 L1209.9,121.5 L1208.7,120.9 L1207.5,120.4 L1206.4,119.9 L1205.2,119.4 L1204.1,118.9 L1203.0,118.4 L1201.9,117.9 L1200.9,117.3 L1199.8,116.8 L1198.8,116.3 L1197.8,115.8 L1196.9,115.3 L1195.9,114.8 L1195.0,114.2 L1194.1,113.7 L1193.2,113.2 L1192.3,112.7 L1191.5,112.2 L1190.7,111.7 L1189.9,111.1 L1189.1,110.6 L1188.4,110.1 L1187.7,109.6 L1186.9,109.1 L1186.3,108.6 L1185.6,108.1 L1185.0,107.5 L1184.3,107.0 L1183.7,106.5 L1183.2,106.0 L1182.6,105.5 L1182.1,105.0 L1181.5,104.5 L1181.0,103.9 L1180.6,103.4 L1180.1,102.9 L1179.7,102.4 L1179.2,101.9 L1178.8,101.4 L1178.4,100.9 L1178.1,100.4 L1177.7,99.8 L1177.4,99.3 L1177.0,98.8 L1176.7,98.3 L1176.4,97.8 L1176.2,97.3 L1175.9,96.8 L1175.6,96.3 L1175.4,95.7 L1175.2,95.2 L1175.0,94.7 L1174.8,94.2 L1174.6,93.7 L1174.4,93.2 L1174.2,92.7 L1174.1,92.2 L1173.9,91.7 L1173.8,91.2 L1173.6,90.6 L1173.5,90.1 L1173.4,89.6 L1173.3,89.1 L1173.2,88.6 L1173.1,88.1 L1173.0,87.6 L1172.9,87.1 L1172.9,86.6 L1172.8,86.1 L1172.7,85.6 L1172.7,85.1 L1172.6,84.6 L1172.6,84.1 L1172.5,83.5 L1172.5,83.0 L1172.4,82.5 L1172.4,82.0 L1172.4,81.5 L1172.3,81.0 L1172.3,80.5 L1172.3,80.0 L1172.3,79.5 L1172.3,79.0 L1172.2,78.5 L1172.2,78.0 L1172.2,77.5 L1172.2,77.0 L1172.2,76.5 L1172.2,76.0 L1172.2,75.5 L1172.2,75.1 L1172.1,74.6 L1172.1,74.1 L1172.1,73.6 L1172.1,73.1 L1172.1,72.6 L1172.1,72.1 L1172.1,71.6 L1172.1,71.1 L1172.1,70.6 L1172.1,70.1 L1172.1,69.7 L1172.1,69.2 L1172.1,68.7 L1172.1,68.2 L1172.1,67.7 L1172.1,67.2 L1172.1,66.8 L1172.1,66.3 L1172.1,65.8 L1172.1,65.3 L1172.1,64.9 L1172.1,64.4 L1172.1,63.9 L1172.1,63.4 L1172.1,63.0 L1172.1,62.5 L1172.1,62.0 L1172.1,61.6 L1172.1,61.1 L1172.1,60.6 L1172.1,60.2 L1172.1,59.7 L1172.1,59.3 L1172.1,58.8 L1172.1,58.4 L1172.1,57.9 L1172.1,57.5 L1172.1,57.0 L1172.1,56.6 L1172.1,56.1 L1172.1,55.7 L1172.1,55.2 L1172.1,54.8 L1172.1,54.4 L1172.1,53.9 L1172.1,53.5 L1172.1,53.1 L1172.1,52.6 L1172.1,52.2 L1172.1,51.8 L1172.1,51.4 L1172.1,51.0 L1172.1,50.6 L1172.1,50.2 L1172.1,49.8 L1172.1,49.3 L1172.1,48.9 L1172.1,48.6 L1172.1,48.2 L1172.1,47.8 L1172.1,47.4 L1172.1,47.0 L1172.1,46.6 L1172.1,46.2 L1172.1,45.9 L1172.1,45.5 L1172.1,45.1 L1172.1,44.8 L1172.1,44.4 L1172.1,44.1 L1172.1,43.7 L1172.1,43.4 L1172.1,43.0 L1172.1,42.7 L1172.1,42.4 L1172.1,42.0 L1172.1,41.7 L1172.1,41.4 L1172.1,41.1 L1172.1,40.8 L1172.1,40.5 L1172.1,40.2 L1172.1,39.9 L1172.1,39.6 L1172.1,39.3 L1172.1,39.0 L1172.1,38.7 L1172.1,38.5 L1172.1,38.2 L1172.1,37.9 L1172.1,37.7 L1172.1,37.4 L1172.1,37.2 L1172.1,36.9 L1172.1,36.7 L1172.1,36.5 L1172.1,36.2 L1172.1,36.0 L1172.1,35.8 L1172.1,35.6 L1172.1,35.4 L1172.1,35.2 L1172.1,35.0 L1172.1,34.8 L1172.1,34.6 L1172.1,34.5 L1172.1,34.3 L1172.1,34.1 L1172.1,33.9 L1172.1,33.8 L1172.1,33.6 L1172.1,33.5 L1172.1,33.3 L1172.1,33.2 L1172.1,33.1 L1172.1,32.9 L1172.1,32.8 L1172.1,32.7 L1172.1,32.6 L1172.1,32.5 L1172.1,32.4 L1172.1,32.3 L1172.1,32.2 L1172.1,32.1 L1172.1,32.0 L1172.1,31.9 L1172.1,31.8 L1172.1,31.7 L1172.1,31.6 L1172.1,31.6 L1172.1,31.5 L1172.1,31.4 L1172.1,31.4 L1172.1,31.3 L1172.1,31.3 L1172.1,31.2 L1172.1,31.2 L1172.1,31.1 L1172.1,31.1 L1172.1,31.0 L1172.1,31.0 L1172.1,31.0 L1172.1,30.9 L1172.1,30.9 L1172.1,30.9 L1172.1,30.8 L1172.1,30.8 L1172.1,30.8 L1172.1,30.8 L1172.1,30.7 L1172.1,30.7 L1172.1,30.7 L1172.1,30.7 L1172.1,30.7 L1172.1,30.6 L1172.1,30.6 L1172.1,30.6 L1172.1,30.6 L1172.1,30.6 L1172.1,30.6 L1172.1,30.6 L1172.1,30.6 L1172.1,30.6 L1172.1,30.6 L1172.1,30.6 L1172.1,30.5 L1172.1,30.5 L1172.1,30.5 L1172.1,30.5 L1172.1,30.5 L1172.1,30.5 L1172.1,30.5 L1172.1,30.5 L1172.1,30.5 L1172.1,30.5 L1172.1,30.5 L1172.1,30.5 L1172.1,30.5 L1172.1,30.5 L1172.1,30.5 L1172.1,30.5 L1172.1,30.5 L1172.1,30.5 L1172.1,30.5 L1172.7,30.5" stroke="#2e86c8"/>
<path d="M1450.6,256.0 L1450.5,255.5 L1450.4,255.0 L1450.3,254.5 L1450.2,254.0 L1450.1,253.5 L1450.0,252.9 L1449.9,252.4 L1449.8,251.9 L1449.7,251.4 L1449.6,250.9 L1449.5,250.3 L1449.3,249.8 L1449.2,249.3 L1449.1,248.8 L1449.0,248.3 L1448.9,247.8 L1448.7,247.2 L1448.6,246.7 L1448.5,246.2 L1448.4,245.7 L1448.2,245.2 L1448.1,244.7 L1448.0,244.1 L1447.8,243.6 L1447.7,243.1 L1447.5,242.6 L1447.4,242.1 L1447.3,241.6 L1447.1,241.0 L1447.0,240.5 L1446.8,240.0 L1446.6,239.5 L1446.5,239.0 L1446.3,238.4 L1446.2,237.9 L1446.0,237.4 L1445.8,236.9 L1445.7,236.4 L1445.5,235.9 L1445.3,235.3 L1445.1,234.8 L1445.0,234.3 L1444.8,233.8 L1444.6,233.3 L1444.4,232.8 L1444.2,232.2 L1444.0,231.7 L1443.8,231.2 L1443.6,230.7 L1443.4,230.2 L1443.2,229.6 L1443.0,229.1 L1442.8,228.6 L1442.6,228.1 L1442.3,227.6 L1442.1,227.1 L1441.9,226.5 L1441.7,226.0 L1441.4,225.5 L1441.2,225.0 L1440.9,224.5 L1440.7,224.0 L1440.5,223.4 L1440.2,222.9 L1439.9,222.4 L1439.7,221.9 L1439.4,221.4 L1439.2,220.8 L1438.9,220.3 L1438.6,219.8 L1438.3,219.3 L1438.0,218.8 L1437.8,218.3 L1437.5,217.7 L1437.2,217.2 L1436.9,216.7 L1436.6,216.2 L1436.2,215.7 L1435.9,215.2 L1435.6,214.6 L1435.3,214.1 L1435.0,213.6 L1434.6,213.1 L1434.3,212.6 L1433.9,212.0 L1433.6,211.5 L1433.2,211.0 L1432.9,210.5 L1432.5,210.0 L1432.1,209.5 L1431.8,208.9 L1431.4,208.4 L1431.0,207.9 L1430.6,207.4 L1430.2,206.9 L1429.8,206.4 L1429.4,205.8 L1429.0,205.3 L1428.6,204.8 L1428.1,204.3 L1427.7,203.8 L1427.3,203.3 L1426.8,202.7 L1426.4,202.2 L1425.9,201.7 L1425.5,201.2 L1425.0,200.7 L1424.5,200.1 L1424.0,199.6 L1423.5,199.1 L1423.0,198.6 L1422.5,198.1 L1422.0,197.6 L1421.5,197.0 L1421.0,196.5 L1420.4,196.0 L1419.9,195.5 L1419.4,195.0 L1418.8,194.5 L1418.2,193.9 L1417.7,193.4 L1417.1,192.9 L1416.5,192.4 L1415.9,191.9 L1415.3,191.3 L1414.7,190.8 L1414.1,190.3 L1413.5,189.8 L1412.8,189.3 L1412.2,188.8 L1411.5,188.2 L1410.9,187.7 L1410.2,187.2 L1409.5,186.7 L1408.8,186.2 L1408.1,185.7 L1407.4,185.1 L1406.7,184.6 L1406.0,184.1 L1405.3,183.6 L1404.5,183.1 L1403.8,182.5 L1403.0,182.0 L1402.2,181.5 L1401.4,181.0 L1400.7,180.5 L1399.9,180.0 L1399.1,179.4 L1398.2,178.9 L1397.4,178.4 L1396.6,177.9 L1395.7,177.4 L1394.9,176.9 L1394.0,176.3 L1393.1,175.8 L1392.2,175.3 L1391.3,174.8 L1390.4,174.3 L1389.5,173.7 L1388.5,173.2 L1387.6,172.7 L1386.6,172.2 L1385.7,171.7 L1384.7,171.2 L1383.7,170.6 L1382.7,170.1 L1381.7,169.6 L1380.7,169.1 L1379.6,168.6 L1378.6,168.1 L1377.5,167.5 L1376.5,167.0 L1375.4,166.5 L1374.3,166.0 L1373.2,165.5 L1372.1,165.0 L1371.0,164.4 L1369.8,163.9 L1368.7,163.4 L1367.5,162.9 L1366.3,162.4 L1365.2,161.8 L1364.0,161.3 L1362.8,160.8 L1361.5,160.3 L1360.3,159.8 L1359.1,159.3 L1357.8,158.7 L1356.6,158.2 L1355.3,157.7 L1354.0,157.2 L1352.7,156.7 L1351.4,156.2 L1350.1,155.6 L1348.7,155.1 L1347.4,154.6 L1346.1,154.1 L1344.7,153.6 L1343.3,153.0 L1341.9,152.5 L1340.5,152.0 L1339.1,151.5 L1337.7,151.0 L1336.3,150.5 L1334.9,149.9 L1333.4,149.4 L1331.9,148.9 L1330.5,148.4 L1329.0,147.9 L1327.5,147.4 L1326.0,146.8 L1324.5,146.3 L1323.0,145.8 L1321.5,145.3 L1320.0,144.8 L1318.4,144.3 L1316.9,143.7 L1315.3,143.2 L1313.8,142.7 L1312.2,142.2 L1310.6,141.7 L1309.0,141.2 L1307.4,140.6 L1305.8,140.1 L1304.2,139.6 L1302.6,139.1 L1301.0,138.6 L1299.4,138.0 L1297.8,137.5 L1296.1,137.0 L1294.5,136.5 L1292.9,136.0 L1291.2,135.5 L1289.6,134.9 L1287.9,134.4 L1286.3,133.9 L1284.6,133.4 L1283.0,132.9 L1281.3,132.4 L1279.6,131.8 L1278.0,131.3 L1276.3,130.8 L1274.7,130.3 L1273.0,129.8 L1271.3,129.3 L1269.7,128.7 L1268.0,128.2 L1266.4,127.7 L1264.7,127.2 L1263.1,126.7 L1261.4,126.2 L1259.8,125.6 L1258.2,125.1 L1256.5,124.6 L1254.9,124.1 L1253.3,123.6 L1251.7,123.1 L1250.1,122.5 L1248.5,122.0 L1246.9,121.5 L1245.3,121.0 L1243.8,120.5 L1242.2,120.0 L1240.7,119.4 L1239.1,118.9 L1237.6,118.4 L1236.1,117.9 L1234.6,117.4 L1233.1,116.9 L1231.6,116.4 L1230.1,115.8 L1228.7,115.3 L1227.2,114.8 L1225.8,114.3 L1224.4,113.8 L1223.0,113.3 L1221.6,112.7 L1220.3,112.2 L1218.9,111.7 L1217.6,111.2 L1216.3,110.7 L1215.0,110.2 L1213.7,109.7 L1212.4,109.1 L1211.2,108.6 L1210.0,108.1 L1208.8,107.6 L1207.6,107.1 L1206.4,106.6 L1205.3,106.1 L1204.2,105.5 L1203.1,105.0 L1202.0,104.5 L1201.0,104.0 L1199.9,103.5 L1198.9,103.0 L1197.9,102.5 L1196.9,101.9 L1196.0,101.4 L1195.1,100.9 L1194.2,100.4 L1193.3,99.9 L1192.4,99.4 L1191.6,98.9 L1190.8,98.4 L1190.0,97.8 L1189.2,97.3 L1188.5,96.8 L1187.7,96.3 L1187.0,95.8 L1186.3,95.3 L1185.7,94.8 L1185.0,94.3 L1184.4,93.7 L1183.8,93.2 L1183.2,92.7 L1182.7,92.2 L1182.1,91.7 L1181.6,91.2 L1181.1,90.7 L1180.6,90.2 L1180.2,89.7 L1179.7,89.2 L1179.3,88.7 L1178.9,88.1 L1178.5,87.6 L1178.1,87.1 L1177.8,86.6 L1177.4,86.1 L1177.1,85.6 L1176.8,85.1 L1176.5,84.6 L1176.2,84.1 L1175.9,83.6 L1175.7,83.1 L1175.4,82.6 L1175.2,82.1 L1175.0,81.6 L1174.8,81.1 L1174.6,80.6 L1174.4,80.1 L1174.2,79.6 L1174.1,79.1 L1173.9,78.6 L1173.8,78.1 L1173.7,77.6 L1173.5,77.1 L1173.4,76.6 L1173.3,76.1 L1173.2,75.6 L1173.1,75.1 L1173.0,74.6 L1172.9,74.1 L1172.9,73.6 L1172.8,73.1 L1172.7,72.6 L1172.7,72.1 L1172.6,71.7 L1172.6,71.2 L1172.5,70.7 L1172.5,70.2 L1172.5,69.7 L1172.4,69.2 L1172.4,68.7 L1172.4,68.2 L1172.3,67.8 L1172.3,67.3 L1172.3,66.8 L1172.3,66.3 L1172.2,65.8 L1172.2,65.4 L1172.2,64.9 L1172.2,64.4 L1172.2,64.0 L1172.2,63.5 L1172.2,63.0 L1172.2,62.5 L1172.2,62.1 L1172.1,61.6 L1172.1,61.1 L1172.1,60.7 L1172.1,60.2 L1172.1,59.8 L1172.1,59.3 L1172.1,58.9 L1172.1,58.4 L1172.1,57.9 L1172.1,57.5 L1172.1,57.0 L1172.1,56.6 L1172.1,56.2 L1172.1,55.7 L1172.1,55.3 L1172.1,54.8 L1172.1,54.4 L1172.1,54.0 L1172.1,53.5 L1172.1,53.1 L1172.1,52.7 L1172.1,52.3 L1172.1,51.8 L1172.1,51.4 L1172.1,51.0 L1172.1,50.6 L1172.1,50.2 L1172.1,49.8 L1172.1,49.4 L1172.1,49.0 L1172.1,48.6 L1172.1,48.2 L1172.1,47.8 L1172.1,47.4 L1172.1,47.0 L1172.1,46.7 L1172.1,46.3 L1172.1,45.9 L1172.1,45.5 L1172.1,45.2 L1172.1,44.8 L1172.1,44.5 L1172.1,44.1 L1172.1,43.8 L1172.1,43.4 L1172.1,43.1 L1172.1,42.7 L1172.1,42.4 L1172.1,42.1 L1172.1,41.7 L1172.1,41.4 L1172.1,41.1 L1172.1,40.8 L1172.1,40.5 L1172.1,40.2 L1172.1,39.9 L1172.1,39.6 L1172.1,39.3 L1172.1,39.0 L1172.1,38.8 L1172.1,38.5 L1172.1,38.2 L1172.1,38.0 L1172.1,37.7 L1172.1,37.5 L1172.1,37.2 L1172.1,37.0 L1172.1,36.7 L1172.1,36.5 L1172.1,36.3 L1172.1,36.0 L1172.1,35.8 L1172.1,35.6 L1172.1,35.4 L1172.1,35.2 L1172.1,35.0 L1172.1,34.8 L1172.1,34.6 L1172.1,34.5 L1172.1,34.3 L1172.1,34.1 L1172.1,34.0 L1172.1,33.8 L1172.1,33.6 L1172.1,33.5 L1172.1,33.4 L1172.1,33.2 L1172.1,33.1 L1172.1,33.0 L1172.1,32.8 L1172.1,32.7 L1172.1,32.6 L1172.1,32.5 L1172.1,32.4 L1172.1,32.3 L1172.1,32.2 L1172.1,32.1 L1172.1,32.0 L1172.1,31.9 L1172.1,31.8 L1172.1,31.7 L1172.1,31.7 L1172.1,31.6 L1172.1,31.5 L1172.1,31.4 L1172.1,31.4 L1172.1,31.3 L1172.1,31.3 L1172.1,31.2 L1172.1,31.2 L1172.1,31.1 L1172.1,31.1 L1172.1,31.0 L1172.1,31.0 L1172.1,31.0 L1172.1,30.9 L1172.1,30.9 L1172.1,30.9 L1172.1,30.8 L1172.1,30.8 L1172.1,30.8 L1172.1,30.8 L1172.1,30.7 L1172.1,30.7 L1172.1,30.7 L1172.1,30.7 L1172.1,30.7 L1172.1,30.6 L1172.1,30.6 L1172.1,30.6 L1172.1,30.6 L1172.1,30.6 L1172.1,30.6 L1172.1,30.6 L1172.1,30.6 L1172.1,30.6 L1172.1,30.6 L1172.1,30.6 L1172.1,30.5 L1172.1,30.5 L1172.1,30.5 L1172.1,30.5 L1172.1,30.5 L1172.1,30.5 L1172.1,30.5 L1172.1,30.5 L1172.1,30.5 L1172.1,30.5 L1172.1,30.5 L1172.1,30.5 L1172.1,30.5 L1172.1,30.5 L1172.1,30.5 L1172.1,30.5 L1172.1,30.5 L1172.1,30.5 L1172.1,30.5 L1172.1,30.5 L1172.1,30.5 L1172.1,30.5 L1172.1,30.5 L1172.1,30.5 L1172.1,30.5 L1172.1,30.5 L1172.1,30.5 L1172.1,30.5 L1172.1,30.5 L1172.1,30.5 L1172.1,30.5 L1172.1,30.5 L1172.1,30.5 L1172.1,30.5 L1172.1,30.5 L1172.1,30.5 L1172.1,30.5 L1172.1,30.5 L1172.1,30.5 L1172.1,30.5 L1172.1,30.5 L1172.1,30.5 L1172.1,30.5 L1172.1,30.5 L1172.1,30.5 L1172.7,30.5" stroke="#7ab648"/>
<path d="M1453.4,255.8 L1453.3,255.3 L1453.3,254.8 L1453.2,254.3 L1453.2,253.7 L1453.1,253.2 L1453.1,252.7 L1453.0,252.2 L1453.0,251.7 L1452.9,251.2 L1452.8,250.6 L1452.8,250.1 L1452.7,249.6 L1452.7,249.1 L1452.6,248.6 L1452.5,248.0 L1452.5,247.5 L1452.4,247.0 L1452.3,246.5 L1452.3,246.0 L1452.2,245.5 L1452.1,244.9 L1452.0,244.4 L1452.0,243.9 L1451.9,243.4 L1451.8,242.9 L1451.7,242.4 L1451.7,241.8 L1451.6,241.3 L1451.5,240.8 L1451.4,240.3 L1451.3,239.8 L1451.2,239.2 L1451.2,238.7 L1451.1,238.2 L1451.0,237.7 L1450.9,237.2 L1450.8,236.7 L1450.7,236.1 L1450.6,235.6 L1450.5,235.1 L1450.4,234.6 L1450.3,234.1 L1450.2,233.6 L1450.1,233.0 L1450.0,232.5 L1449.9,232.0 L1449.8,231.5 L1449.7,231.0 L1449.6,230.5 L1449.5,229.9 L1449.3,229.4 L1449.2,228.9 L1449.1,228.4 L1449.0,227.9 L1448.9,227.3 L1448.7,226.8 L1448.6,226.3 L1448.5,225.8 L1448.4,225.3 L1448.2,224.8 L1448.1,224.2 L1448.0,223.7 L1447.8,223.2 L1447.7,222.7 L1447.5,222.2 L1447.4,221.7 L1447.3,221.1 L1447.1,220.6 L1447.0,220.1 L1446.8,219.6 L1446.6,219.1 L1446.5,218.5 L1446.3,218.0 L1446.2,217.5 L1446.0,217.0 L1445.8,216.5 L1445.7,216.0 L1445.5,215.4 L1445.3,214.9 L1445.1,214.4 L1445.0,213.9 L1444.8,213.4 L1444.6,212.9 L1444.4,212.3 L1444.2,211.8 L1444.0,211.3 L1443.8,210.8 L1443.6,210.3 L1443.4,209.7 L1443.2,209.2 L1443.0,208.7 L1442.8,208.2 L1442.6,207.7 L1442.3,207.2 L1442.1,206.6 L1441.9,206.1 L1441.7,205.6 L1441.4,205.1 L1441.2,204.6 L1440.9,204.1 L1440.7,203.5 L1440.5,203.0 L1440.2,202.5 L1439.9,202.0 L1439.7,201.5 L1439.4,200.9 L1439.2,200.4 L1438.9,199.9 L1438.6,199.4 L1438.3,198.9 L1438.0,198.4 L1437.8,197.8 L1437.5,197.3 L1437.2,196.8 L1436.9,196.3 L1436.6,195.8 L1436.3,195.3 L1435.9,194.7 L1435.6,194.2 L1435.3,193.7 L1435.0,193.2 L1434.6,192.7 L1434.3,192.2 L1433.9,191.6 L1433.6,191.1 L1433.2,190.6 L1432.9,190.1 L1432.5,189.6 L1432.2,189.0 L1431.8,188.5 L1431.4,188.0 L1431.0,187.5 L1430.6,187.0 L1430.2,186.5 L1429.8,185.9 L1429.4,185.4 L1429.0,184.9 L1428.6,184.4 L1428.2,183.9 L1427.7,183.4 L1427.3,182.8 L1426.8,182.3 L1426.4,181.8 L1425.9,181.3 L1425.5,180.8 L1425.0,180.2 L1424.5,179.7 L1424.0,179.2 L1423.5,178.7 L1423.0,178.2 L1422.5,177.7 L1422.0,177.1 L1421.5,176.6 L1421.0,176.1 L1420.5,175.6 L1419.9,175.1 L1419.4,174.6 L1418.8,174.0 L1418.3,173.5 L1417.7,173.0 L1417.1,172.5 L1416.5,172.0 L1415.9,171.4 L1415.3,170.9 L1414.7,170.4 L1414.1,169.9 L1413.5,169.4 L1412.8,168.9 L1412.2,168.3 L1411.5,167.8 L1410.9,167.3 L1410.2,166.8 L1409.5,166.3 L1408.8,165.8 L1408.2,165.2 L1407.4,164.7 L1406.7,164.2 L1406.0,163.7 L1405.3,163.2 L1404.5,162.7 L1403.8,162.1 L1403.0,161.6 L1402.3,161.1 L1401.5,160.6 L1400.7,160.1 L1399.9,159.5 L1399.1,159.0 L1398.3,158.5 L1397.4,158.0 L1396.6,157.5 L1395.7,157.0 L1394.9,156.4 L1394.0,155.9 L1393.1,155.4 L1392.2,154.9 L1391.3,154.4 L1390.4,153.9 L1389.5,153.3 L1388.6,152.8 L1387.6,152.3 L1386.7,151.8 L1385.7,151.3 L1384.7,150.7 L1383.7,150.2 L1382.7,149.7 L1381.7,149.2 L1380.7,148.7 L1379.7,148.2 L1378.6,147.6 L1377.6,147.1 L1376.5,146.6 L1375.4,146.1 L1374.4,145.6 L1373.3,145.1 L1372.1,144.5 L1371.0,144.0 L1369.9,143.5 L1368.7,143.0 L1367.6,142.5 L1366.4,142.0 L1365.2,141.4 L1364.0,140.9 L1362.8,140.4 L1361.6,139.9 L1360.4,139.4 L1359.2,138.9 L1357.9,138.3 L1356.7,137.8 L1355.4,137.3 L1354.1,136.8 L1352.8,136.3 L1351.5,135.7 L1350.2,135.2 L1348.9,134.7 L1347.5,134.2 L1346.2,133.7 L1344.8,133.2 L1343.4,132.6 L1342.1,132.1 L1340.7,131.6 L1339.3,131.1 L1337.8,130.6 L1336.4,130.1 L1335.0,129.5 L1333.5,129.0 L1332.1,128.5 L1330.6,128.0 L1329.2,127.5 L1327.7,127.0 L1326.2,126.4 L1324.7,125.9 L1323.2,125.4 L1321.6,124.9 L1320.1,124.4 L1318.6,123.9 L1317.0,123.3 L1315.5,122.8 L1313.9,122.3 L1312.4,121.8 L1310.8,121.3 L1309.2,120.8 L1307.6,120.2 L1306.0,119.7 L1304.4,119.2 L1302.8,118.7 L1301.2,118.2 L1299.6,117.7 L1298.0,117.2 L1296.4,116.6 L1294.7,116.1 L1293.1,115.6 L1291.4,115.1 L1289.8,114.6 L1288.2,114.1 L1286.5,113.5 L1284.9,113.0 L1283.2,112.5 L1281.6,112.0 L1279.9,111.5 L1278.3,111.0 L1276.6,110.5 L1274.9,109.9 L1273.3,109.4 L1271.6,108.9 L1270.0,108.4 L1268.3,107.9 L1266.7,107.4 L1265.0,106.8 L1263.4,106.3 L1261.8,105.8 L1260.1,105.3 L1258.5,104.8 L1256.9,104.3 L1255.3,103.8 L1253.6,103.3 L1252.0,102.7 L1250.4,102.2 L1248.9,101.7 L1247.3,101.2 L1245.7,100.7 L1244.1,100.2 L1242.6,99.7 L1241.0,99.1 L1239.5,98.6 L1238.0,98.1 L1236.4,97.6 L1234.9,97.1 L1233.4,96.6 L1232.0,96.1 L1230.5,95.6 L1229.1,95.1 L1227.6,94.5 L1226.2,94.0 L1224.8,93.5 L1223.4,93.0 L1222.0,92.5 L1220.7,92.0 L1219.3,91.5 L1218.0,91.0 L1216.7,90.5 L1215.4,90.0 L1214.1,89.4 L1212.8,88.9 L1211.6,88.4 L1210.4,87.9 L1209.2,87.4 L1208.0,86.9 L1206.8,86.4 L1205.7,85.9 L1204.6,85.4 L1203.5,84.9 L1202.4,84.4 L1201.4,83.9 L1200.3,83.4 L1199.3,82.9 L1198.3,82.4 L1197.3,81.9 L1196.4,81.4 L1195.5,80.9 L1194.6,80.4 L1193.7,79.9 L1192.8,79.4 L1192.0,78.9 L1191.1,78.4 L1190.3,77.9 L1189.6,77.4 L1188.8,76.9 L1188.1,76.4 L1187.4,75.9 L1186.7,75.4 L1186.0,74.9 L1185.4,74.4 L1184.7,73.9 L1184.1,73.4 L1183.5,72.9 L1183.0,72.4 L1182.4,71.9 L1181.9,71.4 L1181.4,70.9 L1180.9,70.5 L1180.4,70.0 L1180.0,69.5 L1179.5,69.0 L1179.1,68.5 L1178.7,68.0 L1178.4,67.6 L1178.0,67.1 L1177.6,66.6 L1177.3,66.1 L1177.0,65.6 L1176.7,65.2 L1176.4,64.7 L1176.1,64.2 L1175.9,63.7 L1175.6,63.3 L1175.4,62.8 L1175.2,62.3 L1174.9,61.9 L1174.7,61.4 L1174.6,60.9 L1174.4,60.5 L1174.2,60.0 L1174.1,59.6 L1173.9,59.1 L1173.8,58.6 L1173.6,58.2 L1173.5,57.7 L1173.4,57.3 L1173.3,56.8 L1173.2,56.4 L1173.1,56.0 L1173.0,55.5 L1172.9,55.1 L1172.9,54.6 L1172.8,54.2 L1172.7,53.8 L1172.7,53.4 L1172.6,52.9 L1172.6,52.5 L1172.5,52.1 L1172.5,51.7 L1172.5,51.2 L1172.4,50.8 L1172.4,50.4 L1172.4,50.0 L1172.3,49.6 L1172.3,49.2 L1172.3,48.8 L1172.3,48.4 L1172.2,48.0 L1172.2,47.6 L1172.2,47.2 L1172.2,46.9 L1172.2,46.5 L1172.2,46.1 L1172.2,45.7 L1172.2,45.4 L1172.2,45.0 L1172.1,44.7 L1172.1,44.3 L1172.1,43.9 L1172.1,43.6 L1172.1,43.3 L1172.1,42.9 L1172.1,42.6 L1172.1,42.2 L1172.1,41.9 L1172.1,41.6 L1172.1,41.3 L1172.1,41.0 L1172.1,40.7 L1172.1,40.4 L1172.1,40.1 L1172.1,39.8 L1172.1,39.5 L1172.1,39.2 L1172.1,38.9 L1172.1,38.6 L1172.1,38.4 L1172.1,38.1 L1172.1,37.8 L1172.1,37.6 L1172.1,37.3 L1172.1,37.1 L1172.1,36.9 L1172.1,36.6 L1172.1,36.4 L1172.1,36.2 L1172.1,36.0 L1172.1,35.7 L1172.1,35.5 L1172.1,35.3 L1172.1,35.1 L1172.1,34.9 L1172.1,34.7 L1172.1,34.6 L1172.1,34.4 L1172.1,34.2 L1172.1,34.1 L1172.1,33.9 L1172.1,33.7 L1172.1,33.6 L1172.1,33.4 L1172.1,33.3 L1172.1,33.2 L1172.1,33.0 L1172.1,32.9 L1172.1,32.8 L1172.1,32.7 L1172.1,32.5 L1172.1,32.4 L1172.1,32.3 L1172.1,32.2 L1172.1,32.1 L1172.1,32.0 L1172.1,31.9 L1172.1,31.9 L1172.1,31.8 L1172.1,31.7 L1172.1,31.6 L1172.1,31.6 L1172.1,31.5 L1172.1,31.4 L1172.1,31.4 L1172.1,31.3 L1172.1,31.2 L1172.1,31.2 L1172.1,31.1 L1172.1,31.1 L1172.1,31.1 L1172.1,31.0 L1172.1,31.0 L1172.1,30.9 L1172.1,30.9 L1172.1,30.9 L1172.1,30.8 L1172.1,30.8 L1172.1,30.8 L1172.1,30.8 L1172.1,30.7 L1172.1,30.7 L1172.1,30.7 L1172.1,30.7 L1172.1,30.7 L1172.1,30.7 L1172.1,30.6 L1172.1,30.6 L1172.1,30.6 L1172.1,30.6 L1172.1,30.6 L1172.1,30.6 L1172.1,30.6 L1172.1,30.6 L1172.1,30.6 L1172.1,30.6 L1172.1,30.5 L1172.1,30.5 L1172.1,30.5 L1172.1,30.5 L1172.1,30.5 L1172.1,30.5 L1172.1,30.5 L1172.1,30.5 L1172.1,30.5 L1172.1,30.5 L1172.1,30.5 L1172.1,30.5 L1172.1,30.5 L1172.1,30.5 L1172.1,30.5 L1172.1,30.5 L1172.1,30.5 L1172.1,30.5 L1172.1,30.5 L1172.1,30.5 L1172.1,30.5 L1172.1,30.5 L1172.1,30.5 L1172.1,30.5 L1172.1,30.5 L1172.1,30.5 L1172.1,30.5 L1172.1,30.5 L1172.1,30.5 L1172.1,30.5 L1172.1,30.5 L1172.1,30.5 L1172.1,30.5 L1172.1,30.5 L1172.1,30.5 L1172.1,30.5 L1172.1,30.5 L1172.1,30.5 L1172.1,30.5 L1172.1,30.5 L1172.1,30.5 L1172.1,30.5 L1172.1,30.5 L1172.1,30.5 L1172.1,30.5 L1172.1,30.5 L1172.1,30.5 L1172.1,30.5 L1172.1,30.5 L1172.1,30.5 L1172.1,30.5 L1172.1,30.5 L1172.1,30.5 L1172.1,30.5 L1172.1,30.5 L1172.1,30.5 L1172.1,30.5 L1172.1,30.5 L1172.1,30.5 L1172.1,30.5 L1172.1,30.5 L1172.1,30.5 L1172.1,30.5 L1172.1,30.5 L1172.1,30.5 L1172.1,30.5 L1172.1,30.5 L1172.1,30.5 L1172.1,30.5 L1172.1,30.5 L1172.1,30.5 L1172.1,30.5 L1172.1,30.5 L1172.1,30.5 L1172.1,30.5 L1172.1,30.5 L1172.1,30.5 L1172.1,30.5 L1172.1,30.5 L1172.1,30.5 L1172.1,30.5 L1172.1,30.5 L1172.1,30.5 L1172.1,30.5 L1172.1,30.5 L1172.7,30.5" stroke="#ee3338"/>
</g>
<text x="1166.1" y="38.3" font-size="22.0" text-anchor="end">10<tspan font-size="13.2" dy="-8.5">2</tspan></text>
<text x="1166.1" y="115.0" font-size="22.0" text-anchor="end">10<tspan font-size="13.2" dy="-8.5">1</tspan></text>
<text x="1166.1" y="189.0" font-size="22.0" text-anchor="end">10<tspan font-size="13.2" dy="-8.5">0</tspan></text>
<text x="1166.1" y="262.6" font-size="22.0" text-anchor="end">10<tspan font-size="13.2" dy="-8.5">&#8722;1</tspan></text>
<text x="1227.8" y="279.7" font-size="22.4" fill="#000" text-anchor="middle" >20</text>
<text x="1341.7" y="279.7" font-size="22.4" fill="#000" text-anchor="middle" >60</text>
<text x="1455.5" y="279.7" font-size="22.4" fill="#000" text-anchor="middle" >100</text>
<text x="1316.0" y="18.8" font-size="22.0" fill="#000" text-anchor="middle" textLength="251.0" lengthAdjust="spacing">Volumetric enhancement</text>
<text x="1303.0" y="311.3" font-size="22.3" fill="#000" text-anchor="middle" textLength="91.3" lengthAdjust="spacing">Yield (%)</text>
<text font-size="22.3" text-anchor="middle" textLength="250.5" lengthAdjust="spacing" transform="translate(1105.2 132.7) rotate(-90)">Enantiomeric excess (%)</text>
<line x1="1316" y1="63.8" x2="1352" y2="63.8" stroke="#ee3338" stroke-width="2"/>
<line x1="1316" y1="80.0" x2="1352" y2="80.0" stroke="#7ab648" stroke-width="2"/>
<line x1="1316" y1="95.6" x2="1352" y2="95.6" stroke="#2e86c8" stroke-width="2"/>
<line x1="1316" y1="110.5" x2="1352" y2="110.5" stroke="#58595b" stroke-width="2"/>
<text x="1359.0" y="69.3" font-size="16.6" fill="#ed1c24" >R = 40 nm</text>
<text x="1361.0" y="85.7" font-size="16.6" fill="#98c884" >R = 80 nm</text>
<text x="1361.0" y="101.9" font-size="16.6" fill="#98c884" >R = 110 nm</text>
<text x="1359" y="115.5" font-size="20">g<tspan font-size="12.2" dy="6">molecule</tspan></text>
<text x="1335.5" y="53.6" font-size="19" textLength="87" lengthAdjust="spacing">V&#8733; <tspan font-style="italic" font-family="'Liberation Serif', serif" font-size="21">&#960;</tspan><tspan font-style="italic">R</tspan><tspan font-size="11" dy="-7">2</tspan><tspan font-style="italic" dy="7">H</tspan></text>
<g filter="url(#blB)">
<path d="M1202.7,210 L1202.7,235 A53.0,9.0 0 0 0 1308.7,235 L1308.7,210 Z" fill="url(#dgray)"/>
<path d="M1202.7,189.8 L1202.7,210.4 A53.0,9.0 0 0 0 1308.7,210.4 L1308.7,189.8 Z" fill="url(#dpurp)"/>
<ellipse cx="1255.7" cy="189.8" rx="53.0" ry="9.0" fill="url(#dtop)"/>
<clipPath id="discclip"><path d="M1202.7,189.8 A53.0,9.0 0 0 1 1308.7,189.8 L1308.7,210.4 A53.0,9.0 0 0 1 1202.7,210.4 Z"/></clipPath>
<g clip-path="url(#discclip)">
<path d="M1238,183 L1273,183 L1284,220 L1227,220 Z" fill="#49c4dc" opacity="0.8" filter="url(#blB4)"/>
<path d="M1241.5,207 L1241.5,196 C1243,186 1250,182.5 1255.5,182.5 C1261,182.5 1268,186 1269.8,196 L1269.8,207 Z" fill="#b9d860" filter="url(#blB2)"/>
<path d="M1244,205 L1244,197 C1245.5,189 1251,185.5 1255.5,185.5 C1260,185.5 1265.6,189 1267.2,197 L1267.2,205 Z" fill="#fde25a" filter="url(#blB2)"/>
<ellipse cx="1255.5" cy="193" rx="7" ry="6" fill="#fff3a6" filter="url(#blB2)"/>
</g>
<rect x="1315.4" y="187" width="5.2" height="49.8" fill="url(#parula)"/>
</g>
<line x1="1255.5" y1="175.4" x2="1302" y2="175.4" stroke="#222" stroke-width="1.6" marker-end="url(#arK)"/>
<line x1="1255.5" y1="172.5" x2="1255.5" y2="178.5" stroke="#222" stroke-width="2"/>
<path d="M1193,189 h7.6 M1196.8,189 V208.5 M1193,208.5 h7.6" stroke="#222" stroke-width="1.7" fill="none"/>
<text x="1277.5" y="172.3" font-size="18.5" fill="#000" text-anchor="middle" >R</text>
<text x="1178.5" y="206.3" font-size="19.0" fill="#000" >H</text>
<text x="1325.5" y="195.6" font-size="18.5" fill="#000" >5</text>
<text x="1325.5" y="243.8" font-size="18.5" fill="#000" >0</text>
<text font-size="19.5" transform="translate(1345 191.5) rotate(90)">g/g<tspan font-size="12.3" dy="5">CPL</tspan></text>
<rect x="1553.6" y="30.2" width="283.9" height="225.6" fill="none" stroke="#cccccc" stroke-width="1.7"/>
<path d="M1553.6,255.8 h5.0 M1837.5,255.8 h-5.0 M1553.6,233.2 h2.5 M1837.5,233.2 h-2.5 M1553.6,219.9 h2.5 M1837.5,219.9 h-2.5 M1553.6,210.5 h2.5 M1837.5,210.5 h-2.5 M1553.6,203.2 h2.5 M1837.5,203.2 h-2.5 M1553.6,197.3 h2.5 M1837.5,197.3 h-2.5 M1553.6,192.2 h2.5 M1837.5,192.2 h-2.5 M1553.6,187.9 h2.5 M1837.5,187.9 h-2.5 M1553.6,184.0 h2.5 M1837.5,184.0 h-2.5 M1553.6,180.6 h5.0 M1837.5,180.6 h-5.0 M1553.6,158.0 h2.5 M1837.5,158.0 h-2.5 M1553.6,144.7 h2.5 M1837.5,144.7 h-2.5 M1553.6,135.3 h2.5 M1837.5,135.3 h-2.5 M1553.6,128.0 h2.5 M1837.5,128.0 h-2.5 M1553.6,122.1 h2.5 M1837.5,122.1 h-2.5 M1553.6,117.0 h2.5 M1837.5,117.0 h-2.5 M1553.6,112.7 h2.5 M1837.5,112.7 h-2.5 M1553.6,108.8 h2.5 M1837.5,108.8 h-2.5 M1553.6,105.4 h5.0 M1837.5,105.4 h-5.0 M1553.6,82.8 h2.5 M1837.5,82.8 h-2.5 M1553.6,69.5 h2.5 M1837.5,69.5 h-2.5 M1553.6,60.1 h2.5 M1837.5,60.1 h-2.5 M1553.6,52.8 h2.5 M1837.5,52.8 h-2.5 M1553.6,46.9 h2.5 M1837.5,46.9 h-2.5 M1553.6,41.8 h2.5 M1837.5,41.8 h-2.5 M1553.6,37.5 h2.5 M1837.5,37.5 h-2.5 M1553.6,33.6 h2.5 M1837.5,33.6 h-2.5" stroke="#bdbdbd" stroke-width="1" fill="none"/>
<path d="M1610.4,255.8 v-4 M1610.4,30.2 v4 M1667.2,255.8 v-4 M1667.2,30.2 v4 M1723.9,255.8 v-4 M1723.9,30.2 v4 M1780.7,255.8 v-4 M1780.7,30.2 v4" stroke="#bdbdbd" stroke-width="1" fill="none"/>
<clipPath id="cp1553"><rect x="1552.6" y="29.2" width="286.9" height="227.1"/></clipPath>
<g clip-path="url(#cp1553)" fill="none" stroke-width="1.7" stroke-linejoin="round">
<path d="M1824.0,255.9 L1823.8,255.4 L1823.6,254.9 L1823.4,254.4 L1823.2,253.8 L1822.9,253.3 L1822.7,252.8 L1822.5,252.3 L1822.3,251.8 L1822.0,251.3 L1821.8,250.7 L1821.5,250.2 L1821.3,249.7 L1821.0,249.2 L1820.8,248.7 L1820.5,248.1 L1820.3,247.6 L1820.0,247.1 L1819.7,246.6 L1819.4,246.1 L1819.2,245.6 L1818.9,245.0 L1818.6,244.5 L1818.3,244.0 L1818.0,243.5 L1817.7,243.0 L1817.4,242.4 L1817.1,241.9 L1816.8,241.4 L1816.5,240.9 L1816.1,240.4 L1815.8,239.9 L1815.5,239.3 L1815.1,238.8 L1814.8,238.3 L1814.4,237.8 L1814.1,237.3 L1813.7,236.8 L1813.4,236.2 L1813.0,235.7 L1812.6,235.2 L1812.3,234.7 L1811.9,234.2 L1811.5,233.6 L1811.1,233.1 L1810.7,232.6 L1810.3,232.1 L1809.9,231.6 L1809.4,231.1 L1809.0,230.5 L1808.6,230.0 L1808.1,229.5 L1807.7,229.0 L1807.3,228.5 L1806.8,227.9 L1806.3,227.4 L1805.9,226.9 L1805.4,226.4 L1804.9,225.9 L1804.4,225.4 L1803.9,224.8 L1803.4,224.3 L1802.9,223.8 L1802.4,223.3 L1801.9,222.8 L1801.3,222.2 L1800.8,221.7 L1800.2,221.2 L1799.7,220.7 L1799.1,220.2 L1798.6,219.7 L1798.0,219.1 L1797.4,218.6 L1796.8,218.1 L1796.2,217.6 L1795.6,217.1 L1795.0,216.5 L1794.4,216.0 L1793.7,215.5 L1793.1,215.0 L1792.4,214.5 L1791.8,214.0 L1791.1,213.4 L1790.4,212.9 L1789.7,212.4 L1789.0,211.9 L1788.3,211.4 L1787.6,210.8 L1786.9,210.3 L1786.2,209.8 L1785.4,209.3 L1784.7,208.8 L1783.9,208.3 L1783.2,207.7 L1782.4,207.2 L1781.6,206.7 L1780.8,206.2 L1780.0,205.7 L1779.2,205.2 L1778.3,204.6 L1777.5,204.1 L1776.7,203.6 L1775.8,203.1 L1774.9,202.6 L1774.0,202.0 L1773.2,201.5 L1772.3,201.0 L1771.3,200.5 L1770.4,200.0 L1769.5,199.5 L1768.5,198.9 L1767.6,198.4 L1766.6,197.9 L1765.7,197.4 L1764.7,196.9 L1763.7,196.3 L1762.7,195.8 L1761.6,195.3 L1760.6,194.8 L1759.6,194.3 L1758.5,193.8 L1757.4,193.2 L1756.4,192.7 L1755.3,192.2 L1754.2,191.7 L1753.1,191.2 L1751.9,190.6 L1750.8,190.1 L1749.7,189.6 L1748.5,189.1 L1747.3,188.6 L1746.2,188.1 L1745.0,187.5 L1743.8,187.0 L1742.6,186.5 L1741.3,186.0 L1740.1,185.5 L1738.8,184.9 L1737.6,184.4 L1736.3,183.9 L1735.0,183.4 L1733.7,182.9 L1732.4,182.4 L1731.1,181.8 L1729.8,181.3 L1728.4,180.8 L1727.1,180.3 L1725.7,179.8 L1724.4,179.2 L1723.0,178.7 L1721.6,178.2 L1720.2,177.7 L1718.8,177.2 L1717.3,176.7 L1715.9,176.1 L1714.5,175.6 L1713.0,175.1 L1711.5,174.6 L1710.1,174.1 L1708.6,173.6 L1707.1,173.0 L1705.6,172.5 L1704.1,172.0 L1702.6,171.5 L1701.0,171.0 L1699.5,170.4 L1698.0,169.9 L1696.4,169.4 L1694.8,168.9 L1693.3,168.4 L1691.7,167.9 L1690.1,167.3 L1688.5,166.8 L1686.9,166.3 L1685.3,165.8 L1683.7,165.3 L1682.1,164.7 L1680.5,164.2 L1678.9,163.7 L1677.2,163.2 L1675.6,162.7 L1674.0,162.2 L1672.3,161.6 L1670.7,161.1 L1669.0,160.6 L1667.4,160.1 L1665.7,159.6 L1664.1,159.0 L1662.4,158.5 L1660.8,158.0 L1659.1,157.5 L1657.5,157.0 L1655.8,156.5 L1654.2,155.9 L1652.5,155.4 L1650.9,154.9 L1649.2,154.4 L1647.6,153.9 L1645.9,153.4 L1644.3,152.8 L1642.6,152.3 L1641.0,151.8 L1639.4,151.3 L1637.7,150.8 L1636.1,150.2 L1634.5,149.7 L1632.9,149.2 L1631.3,148.7 L1629.7,148.2 L1628.1,147.7 L1626.5,147.1 L1625.0,146.6 L1623.4,146.1 L1621.9,145.6 L1620.3,145.1 L1618.8,144.5 L1617.3,144.0 L1615.8,143.5 L1614.3,143.0 L1612.8,142.5 L1611.4,142.0 L1609.9,141.4 L1608.5,140.9 L1607.0,140.4 L1605.6,139.9 L1604.2,139.4 L1602.9,138.9 L1601.5,138.3 L1600.2,137.8 L1598.8,137.3 L1597.5,136.8 L1596.2,136.3 L1595.0,135.7 L1593.7,135.2 L1592.5,134.7 L1591.3,134.2 L1590.1,133.7 L1588.9,133.2 L1587.7,132.6 L1586.6,132.1 L1585.5,131.6 L1584.4,131.1 L1583.3,130.6 L1582.3,130.1 L1581.2,129.5 L1580.2,129.0 L1579.2,128.5 L1578.3,128.0 L1577.3,127.5 L1576.4,127.0 L1575.5,126.4 L1574.6,125.9 L1573.8,125.4 L1572.9,124.9 L1572.1,124.4 L1571.3,123.9 L1570.6,123.3 L1569.8,122.8 L1569.1,122.3 L1568.4,121.8 L1567.7,121.3 L1567.0,120.8 L1566.4,120.2 L1565.8,119.7 L1565.2,119.2 L1564.6,118.7 L1564.0,118.2 L1563.5,117.7 L1563.0,117.1 L1562.5,116.6 L1562.0,116.1 L1561.6,115.6 L1561.1,115.1 L1560.7,114.6 L1560.3,114.0 L1559.9,113.5 L1559.5,113.0 L1559.2,112.5 L1558.8,112.0 L1558.5,111.5 L1558.2,110.9 L1557.9,110.4 L1557.6,109.9 L1557.4,109.4 L1557.1,108.9 L1556.9,108.4 L1556.6,107.9 L1556.4,107.3 L1556.2,106.8 L1556.0,106.3 L1555.9,105.8 L1555.7,105.3 L1555.5,104.8 L1555.4,104.2 L1555.3,103.7 L1555.1,103.2 L1555.0,102.7 L1554.9,102.2 L1554.8,101.7 L1554.7,101.2 L1554.6,100.7 L1554.5,100.1 L1554.4,99.6 L1554.4,99.1 L1554.3,98.6 L1554.2,98.1 L1554.2,97.6 L1554.1,97.1 L1554.1,96.5 L1554.0,96.0 L1554.0,95.5 L1553.9,95.0 L1553.9,94.5 L1553.9,94.0 L1553.8,93.5 L1553.8,93.0 L1553.8,92.5 L1553.8,91.9 L1553.8,91.4 L1553.7,90.9 L1553.7,90.4 L1553.7,89.9 L1553.7,89.4 L1553.7,88.9 L1553.7,88.4 L1553.7,87.9 L1553.7,87.4 L1553.6,86.9 L1553.6,86.4 L1553.6,85.8 L1553.6,85.3 L1553.6,84.8 L1553.6,84.3 L1553.6,83.8 L1553.6,83.3 L1553.6,82.8 L1553.6,82.3 L1553.6,81.8 L1553.6,81.3 L1553.6,80.8 L1553.6,80.3 L1553.6,79.8 L1553.6,79.3 L1553.6,78.8 L1553.6,78.3 L1553.6,77.8 L1553.6,77.3 L1553.6,76.8 L1553.6,76.3 L1553.6,75.8 L1553.6,75.3 L1553.6,74.8 L1553.6,74.3 L1553.6,73.8 L1553.6,73.3 L1553.6,72.8 L1553.6,72.3 L1553.6,71.9 L1553.6,71.4 L1553.6,70.9 L1553.6,70.4 L1553.6,69.9 L1553.6,69.4 L1553.6,68.9 L1553.6,68.4 L1553.6,68.0 L1553.6,67.5 L1553.6,67.0 L1553.6,66.5 L1553.6,66.0 L1553.6,65.6 L1553.6,65.1 L1553.6,64.6 L1553.6,64.1 L1553.6,63.7 L1553.6,63.2 L1553.6,62.7 L1553.6,62.2 L1553.6,61.8 L1553.6,61.3 L1553.6,60.9 L1553.6,60.4 L1553.6,59.9 L1553.6,59.5 L1553.6,59.0 L1553.6,58.6 L1553.6,58.1 L1553.6,57.6 L1553.6,57.2 L1553.6,56.7 L1553.6,56.3 L1553.6,55.9 L1553.6,55.4 L1553.6,55.0 L1553.6,54.5 L1553.6,54.1 L1553.6,53.7 L1553.6,53.2 L1553.6,52.8 L1553.6,52.4 L1553.6,52.0 L1553.6,51.5 L1553.6,51.1 L1553.6,50.7 L1553.6,50.3 L1553.6,49.9 L1553.6,49.5 L1553.6,49.1 L1553.6,48.7 L1553.6,48.3 L1553.6,47.9 L1553.6,47.5 L1553.6,47.1 L1553.6,46.7 L1553.6,46.4 L1553.6,46.0 L1553.6,45.6 L1553.6,45.2 L1553.6,44.9 L1553.6,44.5 L1553.6,44.2 L1553.6,43.8 L1553.6,43.4 L1553.6,43.1 L1553.6,42.8 L1553.6,42.4 L1553.6,42.1 L1553.6,41.8 L1553.6,41.4 L1553.6,41.1 L1553.6,40.8 L1553.6,40.5 L1553.6,40.2 L1553.6,39.9 L1553.6,39.6 L1553.6,39.3 L1553.6,39.0 L1553.6,38.7 L1553.6,38.5 L1553.6,38.2 L1553.6,37.9 L1553.6,37.7 L1553.6,37.4 L1553.6,37.1 L1553.6,36.9 L1553.6,36.7 L1553.6,36.4 L1553.6,36.2 L1553.6,36.0 L1553.6,35.7 L1553.6,35.5 L1553.6,35.3 L1553.6,35.1 L1553.6,34.9 L1553.6,34.7 L1553.6,34.5 L1553.6,34.3 L1553.6,34.2 L1553.6,34.0 L1553.6,33.8 L1553.6,33.7 L1553.6,33.5 L1553.6,33.3 L1553.6,33.2 L1553.6,33.1 L1553.6,32.9 L1553.6,32.8 L1553.6,32.6 L1553.6,32.5 L1553.6,32.4 L1553.6,32.3 L1553.6,32.2 L1553.6,32.1 L1553.6,32.0 L1553.6,31.9 L1553.6,31.8 L1553.6,31.7 L1553.6,31.6 L1553.6,31.5 L1553.6,31.4 L1553.6,31.4 L1553.6,31.3 L1553.6,31.2 L1553.6,31.1 L1553.6,31.1 L1553.6,31.0 L1553.6,31.0 L1553.6,30.9 L1553.6,30.9 L1553.6,30.8 L1553.6,30.8 L1553.6,30.7 L1553.6,30.7 L1553.6,30.7 L1553.6,30.6 L1553.6,30.6 L1553.6,30.6 L1553.6,30.5 L1553.6,30.5 L1553.6,30.5 L1553.6,30.5 L1553.6,30.4 L1553.6,30.4 L1553.6,30.4 L1553.6,30.4 L1553.6,30.4 L1553.6,30.3 L1553.6,30.3 L1553.6,30.3 L1553.6,30.3 L1553.6,30.3 L1554.2,30.2" stroke="#58595b"/>
<path d="M1835.5,255.8 L1835.5,255.3 L1835.5,254.8 L1835.4,254.2 L1835.4,253.7 L1835.4,253.2 L1835.3,252.7 L1835.3,252.2 L1835.2,251.7 L1835.2,251.1 L1835.2,250.6 L1835.1,250.1 L1835.1,249.6 L1835.1,249.1 L1835.0,248.5 L1835.0,248.0 L1834.9,247.5 L1834.9,247.0 L1834.9,246.5 L1834.8,246.0 L1834.8,245.4 L1834.7,244.9 L1834.7,244.4 L1834.6,243.9 L1834.6,243.4 L1834.6,242.8 L1834.5,242.3 L1834.5,241.8 L1834.4,241.3 L1834.4,240.8 L1834.3,240.3 L1834.3,239.7 L1834.2,239.2 L1834.2,238.7 L1834.1,238.2 L1834.1,237.7 L1834.0,237.1 L1833.9,236.6 L1833.9,236.1 L1833.8,235.6 L1833.8,235.1 L1833.7,234.6 L1833.6,234.0 L1833.6,233.5 L1833.5,233.0 L1833.5,232.5 L1833.4,232.0 L1833.3,231.4 L1833.3,230.9 L1833.2,230.4 L1833.1,229.9 L1833.1,229.4 L1833.0,228.9 L1832.9,228.3 L1832.8,227.8 L1832.8,227.3 L1832.7,226.8 L1832.6,226.3 L1832.5,225.8 L1832.5,225.2 L1832.4,224.7 L1832.3,224.2 L1832.2,223.7 L1832.1,223.2 L1832.1,222.6 L1832.0,222.1 L1831.9,221.6 L1831.8,221.1 L1831.7,220.6 L1831.6,220.1 L1831.5,219.5 L1831.4,219.0 L1831.3,218.5 L1831.2,218.0 L1831.1,217.5 L1831.0,216.9 L1830.9,216.4 L1830.8,215.9 L1830.7,215.4 L1830.6,214.9 L1830.5,214.4 L1830.4,213.8 L1830.3,213.3 L1830.2,212.8 L1830.0,212.3 L1829.9,211.8 L1829.8,211.2 L1829.7,210.7 L1829.6,210.2 L1829.4,209.7 L1829.3,209.2 L1829.2,208.7 L1829.1,208.1 L1828.9,207.6 L1828.8,207.1 L1828.7,206.6 L1828.5,206.1 L1828.4,205.5 L1828.2,205.0 L1828.1,204.5 L1827.9,204.0 L1827.8,203.5 L1827.6,203.0 L1827.5,202.4 L1827.3,201.9 L1827.2,201.4 L1827.0,200.9 L1826.8,200.4 L1826.7,199.8 L1826.5,199.3 L1826.3,198.8 L1826.1,198.3 L1826.0,197.8 L1825.8,197.3 L1825.6,196.7 L1825.4,196.2 L1825.2,195.7 L1825.0,195.2 L1824.8,194.7 L1824.6,194.2 L1824.4,193.6 L1824.2,193.1 L1824.0,192.6 L1823.8,192.1 L1823.6,191.6 L1823.4,191.0 L1823.2,190.5 L1823.0,190.0 L1822.7,189.5 L1822.5,189.0 L1822.3,188.5 L1822.0,187.9 L1821.8,187.4 L1821.5,186.9 L1821.3,186.4 L1821.0,185.9 L1820.8,185.3 L1820.5,184.8 L1820.3,184.3 L1820.0,183.8 L1819.7,183.3 L1819.5,182.8 L1819.2,182.2 L1818.9,181.7 L1818.6,181.2 L1818.3,180.7 L1818.0,180.2 L1817.7,179.6 L1817.4,179.1 L1817.1,178.6 L1816.8,178.1 L1816.5,177.6 L1816.2,177.1 L1815.8,176.5 L1815.5,176.0 L1815.2,175.5 L1814.8,175.0 L1814.5,174.5 L1814.1,173.9 L1813.8,173.4 L1813.4,172.9 L1813.0,172.4 L1812.7,171.9 L1812.3,171.4 L1811.9,170.8 L1811.5,170.3 L1811.1,169.8 L1810.7,169.3 L1810.3,168.8 L1809.9,168.3 L1809.5,167.7 L1809.0,167.2 L1808.6,166.7 L1808.2,166.2 L1807.7,165.7 L1807.3,165.1 L1806.8,164.6 L1806.4,164.1 L1805.9,163.6 L1805.4,163.1 L1804.9,162.6 L1804.5,162.0 L1804.0,161.5 L1803.5,161.0 L1802.9,160.5 L1802.4,160.0 L1801.9,159.4 L1801.4,158.9 L1800.8,158.4 L1800.3,157.9 L1799.7,157.4 L1799.2,156.9 L1798.6,156.3 L1798.0,155.8 L1797.5,155.3 L1796.9,154.8 L1796.3,154.3 L1795.7,153.7 L1795.0,153.2 L1794.4,152.7 L1793.8,152.2 L1793.1,151.7 L1792.5,151.2 L1791.8,150.6 L1791.2,150.1 L1790.5,149.6 L1789.8,149.1 L1789.1,148.6 L1788.4,148.1 L1787.7,147.5 L1787.0,147.0 L1786.3,146.5 L1785.5,146.0 L1784.8,145.5 L1784.0,144.9 L1783.3,144.4 L1782.5,143.9 L1781.7,143.4 L1780.9,142.9 L1780.1,142.4 L1779.3,141.8 L1778.5,141.3 L1777.6,140.8 L1776.8,140.3 L1775.9,139.8 L1775.1,139.3 L1774.2,138.7 L1773.3,138.2 L1772.4,137.7 L1771.5,137.2 L1770.6,136.7 L1769.6,136.1 L1768.7,135.6 L1767.8,135.1 L1766.8,134.6 L1765.8,134.1 L1764.8,133.6 L1763.9,133.0 L1762.9,132.5 L1761.8,132.0 L1760.8,131.5 L1759.8,131.0 L1758.7,130.5 L1757.7,129.9 L1756.6,129.4 L1755.5,128.9 L1754.4,128.4 L1753.3,127.9 L1752.2,127.4 L1751.1,126.8 L1749.9,126.3 L1748.8,125.8 L1747.6,125.3 L1746.4,124.8 L1745.3,124.2 L1744.1,123.7 L1742.9,123.2 L1741.6,122.7 L1740.4,122.2 L1739.2,121.7 L1737.9,121.1 L1736.7,120.6 L1735.4,120.1 L1734.1,119.6 L1732.8,119.1 L1731.5,118.6 L1730.2,118.0 L1728.9,117.5 L1727.5,117.0 L1726.2,116.5 L1724.8,116.0 L1723.4,115.5 L1722.0,114.9 L1720.7,114.4 L1719.2,113.9 L1717.8,113.4 L1716.4,112.9 L1715.0,112.4 L1713.5,111.9 L1712.1,111.3 L1710.6,110.8 L1709.2,110.3 L1707.7,109.8 L1706.2,109.3 L1704.7,108.8 L1703.2,108.2 L1701.7,107.7 L1700.1,107.2 L1698.6,106.7 L1697.1,106.2 L1695.5,105.7 L1694.0,105.2 L1692.4,104.6 L1690.8,104.1 L1689.3,103.6 L1687.7,103.1 L1686.1,102.6 L1684.5,102.1 L1682.9,101.6 L1681.3,101.0 L1679.7,100.5 L1678.1,100.0 L1676.5,99.5 L1674.9,99.0 L1673.2,98.5 L1671.6,98.0 L1670.0,97.5 L1668.3,96.9 L1666.7,96.4 L1665.1,95.9 L1663.4,95.4 L1661.8,94.9 L1660.2,94.4 L1658.5,93.9 L1656.9,93.4 L1655.2,92.9 L1653.6,92.3 L1652.0,91.8 L1650.3,91.3 L1648.7,90.8 L1647.1,90.3 L1645.4,89.8 L1643.8,89.3 L1642.2,88.8 L1640.6,88.3 L1639.0,87.8 L1637.4,87.2 L1635.8,86.7 L1634.2,86.2 L1632.6,85.7 L1631.0,85.2 L1629.4,84.7 L1627.9,84.2 L1626.3,83.7 L1624.8,83.2 L1623.3,82.7 L1621.7,82.2 L1620.2,81.7 L1618.7,81.2 L1617.2,80.7 L1615.7,80.2 L1614.3,79.7 L1612.8,79.2 L1611.4,78.7 L1609.9,78.2 L1608.5,77.7 L1607.1,77.2 L1605.7,76.7 L1604.4,76.2 L1603.0,75.7 L1601.7,75.2 L1600.4,74.7 L1599.1,74.2 L1597.8,73.7 L1596.5,73.2 L1595.2,72.7 L1594.0,72.2 L1592.8,71.7 L1591.6,71.3 L1590.4,70.8 L1589.3,70.3 L1588.1,69.8 L1587.0,69.3 L1585.9,68.8 L1584.8,68.3 L1583.8,67.8 L1582.7,67.4 L1581.7,66.9 L1580.7,66.4 L1579.7,65.9 L1578.8,65.4 L1577.9,65.0 L1576.9,64.5 L1576.0,64.0 L1575.2,63.5 L1574.3,63.1 L1573.5,62.6 L1572.7,62.1 L1571.9,61.7 L1571.1,61.2 L1570.4,60.7 L1569.7,60.3 L1569.0,59.8 L1568.3,59.4 L1567.6,58.9 L1567.0,58.4 L1566.4,58.0 L1565.8,57.5 L1565.2,57.1 L1564.6,56.6 L1564.1,56.2 L1563.6,55.8 L1563.1,55.3 L1562.6,54.9 L1562.1,54.4 L1561.7,54.0 L1561.2,53.6 L1560.8,53.1 L1560.4,52.7 L1560.0,52.3 L1559.7,51.9 L1559.3,51.4 L1559.0,51.0 L1558.7,50.6 L1558.4,50.2 L1558.1,49.8 L1557.8,49.4 L1557.5,49.0 L1557.3,48.6 L1557.1,48.2 L1556.8,47.8 L1556.6,47.4 L1556.4,47.0 L1556.2,46.6 L1556.0,46.3 L1555.9,45.9 L1555.7,45.5 L1555.6,45.1 L1555.4,44.8 L1555.3,44.4 L1555.1,44.1 L1555.0,43.7 L1554.9,43.4 L1554.8,43.0 L1554.7,42.7 L1554.6,42.3 L1554.5,42.0 L1554.5,41.7 L1554.4,41.4 L1554.3,41.0 L1554.3,40.7 L1554.2,40.4 L1554.1,40.1 L1554.1,39.8 L1554.1,39.5 L1554.0,39.2 L1554.0,38.9 L1553.9,38.7 L1553.9,38.4 L1553.9,38.1 L1553.8,37.9 L1553.8,37.6 L1553.8,37.3 L1553.8,37.1 L1553.8,36.8 L1553.7,36.6 L1553.7,36.4 L1553.7,36.1 L1553.7,35.9 L1553.7,35.7 L1553.7,35.5 L1553.7,35.3 L1553.7,35.1 L1553.7,34.9 L1553.6,34.7 L1553.6,34.5 L1553.6,34.3 L1553.6,34.1 L1553.6,33.9 L1553.6,33.8 L1553.6,33.6 L1553.6,33.5 L1553.6,33.3 L1553.6,33.2 L1553.6,33.0 L1553.6,32.9 L1553.6,32.7 L1553.6,32.6 L1553.6,32.5 L1553.6,32.4 L1553.6,32.3 L1553.6,32.1 L1553.6,32.0 L1553.6,31.9 L1553.6,31.8 L1553.6,31.7 L1553.6,31.7 L1553.6,31.6 L1553.6,31.5 L1553.6,31.4 L1553.6,31.3 L1553.6,31.3 L1553.6,31.2 L1553.6,31.1 L1553.6,31.1 L1553.6,31.0 L1553.6,31.0 L1553.6,30.9 L1553.6,30.9 L1553.6,30.8 L1553.6,30.8 L1553.6,30.7 L1553.6,30.7 L1553.6,30.6 L1553.6,30.6 L1553.6,30.6 L1553.6,30.6 L1553.6,30.5 L1553.6,30.5 L1553.6,30.5 L1553.6,30.4 L1553.6,30.4 L1553.6,30.4 L1553.6,30.4 L1553.6,30.4 L1553.6,30.4 L1553.6,30.3 L1553.6,30.3 L1553.6,30.3 L1553.6,30.3 L1553.6,30.3 L1553.6,30.3 L1553.6,30.3 L1553.6,30.3 L1553.6,30.3 L1553.6,30.3 L1553.6,30.3 L1553.6,30.2 L1553.6,30.2 L1553.6,30.2 L1553.6,30.2 L1553.6,30.2 L1553.6,30.2 L1553.6,30.2 L1553.6,30.2 L1553.6,30.2 L1553.6,30.2 L1553.6,30.2 L1553.6,30.2 L1553.6,30.2 L1553.6,30.2 L1553.6,30.2 L1553.6,30.2 L1553.6,30.2 L1553.6,30.2 L1553.6,30.2 L1553.6,30.2 L1553.6,30.2 L1553.6,30.2 L1553.6,30.2 L1553.6,30.2 L1553.6,30.2 L1553.6,30.2 L1553.6,30.2 L1553.6,30.2 L1553.6,30.2 L1553.6,30.2 L1553.6,30.2 L1553.6,30.2 L1553.6,30.2 L1553.6,30.2 L1553.6,30.2 L1553.6,30.2 L1553.6,30.2 L1553.6,30.2 L1553.6,30.2 L1553.6,30.2 L1553.6,30.2 L1553.6,30.2 L1553.6,30.2 L1553.6,30.2 L1553.6,30.2 L1553.6,30.2 L1553.6,30.2 L1553.6,30.2 L1553.6,30.2 L1553.6,30.2 L1553.6,30.2 L1553.6,30.2 L1553.6,30.2 L1553.6,30.2 L1553.6,30.2 L1553.6,30.2 L1553.6,30.2 L1553.6,30.2 L1553.6,30.2 L1553.6,30.2 L1553.6,30.2 L1553.6,30.2 L1553.6,30.2 L1553.6,30.2 L1553.6,30.2 L1553.6,30.2 L1553.6,30.2 L1553.6,30.2 L1553.6,30.2 L1553.6,30.2 L1553.6,30.2 L1553.6,30.2 L1553.6,30.2 L1553.6,30.2 L1553.6,30.2 L1553.6,30.2 L1553.6,30.2 L1553.6,30.2 L1553.6,30.2 L1553.6,30.2 L1553.6,30.2 L1553.6,30.2 L1553.6,30.2 L1553.6,30.2 L1553.6,30.2 L1553.6,30.2 L1553.6,30.2 L1553.6,30.2 L1553.6,30.2 L1553.6,30.2 L1553.6,30.2 L1553.6,30.2 L1553.6,30.2 L1553.6,30.2 L1553.6,30.2 L1553.6,30.2 L1553.6,30.2 L1553.6,30.2 L1553.6,30.2 L1553.6,30.2 L1553.6,30.2 L1553.6,30.2 L1553.6,30.2 L1553.6,30.2 L1553.6,30.2 L1553.6,30.2 L1553.6,30.2 L1553.6,30.2 L1553.6,30.2 L1553.6,30.2 L1553.6,30.2 L1553.6,30.2 L1553.6,30.2 L1553.6,30.2 L1553.6,30.2 L1553.6,30.2 L1554.2,30.2" stroke="#f0b73a"/>
<path d="M1836.5,255.6 L1836.5,255.1 L1836.5,254.6 L1836.5,254.0 L1836.5,253.5 L1836.5,253.0 L1836.4,252.5 L1836.4,252.0 L1836.4,251.4 L1836.4,250.9 L1836.4,250.4 L1836.4,249.9 L1836.3,249.4 L1836.3,248.9 L1836.3,248.3 L1836.3,247.8 L1836.3,247.3 L1836.2,246.8 L1836.2,246.3 L1836.2,245.7 L1836.2,245.2 L1836.2,244.7 L1836.1,244.2 L1836.1,243.7 L1836.1,243.2 L1836.1,242.6 L1836.1,242.1 L1836.0,241.6 L1836.0,241.1 L1836.0,240.6 L1836.0,240.0 L1835.9,239.5 L1835.9,239.0 L1835.9,238.5 L1835.9,238.0 L1835.8,237.5 L1835.8,236.9 L1835.8,236.4 L1835.8,235.9 L1835.7,235.4 L1835.7,234.9 L1835.7,234.3 L1835.6,233.8 L1835.6,233.3 L1835.6,232.8 L1835.5,232.3 L1835.5,231.8 L1835.5,231.2 L1835.5,230.7 L1835.4,230.2 L1835.4,229.7 L1835.4,229.2 L1835.3,228.6 L1835.3,228.1 L1835.2,227.6 L1835.2,227.1 L1835.2,226.6 L1835.1,226.1 L1835.1,225.5 L1835.1,225.0 L1835.0,224.5 L1835.0,224.0 L1834.9,223.5 L1834.9,223.0 L1834.9,222.4 L1834.8,221.9 L1834.8,221.4 L1834.7,220.9 L1834.7,220.4 L1834.6,219.8 L1834.6,219.3 L1834.6,218.8 L1834.5,218.3 L1834.5,217.8 L1834.4,217.3 L1834.4,216.7 L1834.3,216.2 L1834.3,215.7 L1834.2,215.2 L1834.2,214.7 L1834.1,214.1 L1834.1,213.6 L1834.0,213.1 L1833.9,212.6 L1833.9,212.1 L1833.8,211.6 L1833.8,211.0 L1833.7,210.5 L1833.6,210.0 L1833.6,209.5 L1833.5,209.0 L1833.5,208.4 L1833.4,207.9 L1833.3,207.4 L1833.3,206.9 L1833.2,206.4 L1833.1,205.9 L1833.1,205.3 L1833.0,204.8 L1832.9,204.3 L1832.8,203.8 L1832.8,203.3 L1832.7,202.7 L1832.6,202.2 L1832.5,201.7 L1832.5,201.2 L1832.4,200.7 L1832.3,200.2 L1832.2,199.6 L1832.1,199.1 L1832.1,198.6 L1832.0,198.1 L1831.9,197.6 L1831.8,197.0 L1831.7,196.5 L1831.6,196.0 L1831.5,195.5 L1831.4,195.0 L1831.3,194.5 L1831.2,193.9 L1831.1,193.4 L1831.0,192.9 L1830.9,192.4 L1830.8,191.9 L1830.7,191.4 L1830.6,190.8 L1830.5,190.3 L1830.4,189.8 L1830.3,189.3 L1830.2,188.8 L1830.1,188.2 L1829.9,187.7 L1829.8,187.2 L1829.7,186.7 L1829.6,186.2 L1829.5,185.7 L1829.3,185.1 L1829.2,184.6 L1829.1,184.1 L1828.9,183.6 L1828.8,183.1 L1828.7,182.5 L1828.5,182.0 L1828.4,181.5 L1828.2,181.0 L1828.1,180.5 L1827.9,180.0 L1827.8,179.4 L1827.6,178.9 L1827.5,178.4 L1827.3,177.9 L1827.2,177.4 L1827.0,176.8 L1826.8,176.3 L1826.7,175.8 L1826.5,175.3 L1826.3,174.8 L1826.2,174.3 L1826.0,173.7 L1825.8,173.2 L1825.6,172.7 L1825.4,172.2 L1825.3,171.7 L1825.1,171.1 L1824.9,170.6 L1824.7,170.1 L1824.5,169.6 L1824.3,169.1 L1824.1,168.6 L1823.9,168.0 L1823.6,167.5 L1823.4,167.0 L1823.2,166.5 L1823.0,166.0 L1822.8,165.5 L1822.5,164.9 L1822.3,164.4 L1822.1,163.9 L1821.8,163.4 L1821.6,162.9 L1821.3,162.3 L1821.1,161.8 L1820.8,161.3 L1820.6,160.8 L1820.3,160.3 L1820.0,159.8 L1819.8,159.2 L1819.5,158.7 L1819.2,158.2 L1818.9,157.7 L1818.7,157.2 L1818.4,156.6 L1818.1,156.1 L1817.8,155.6 L1817.5,155.1 L1817.2,154.6 L1816.8,154.1 L1816.5,153.5 L1816.2,153.0 L1815.9,152.5 L1815.6,152.0 L1815.2,151.5 L1814.9,150.9 L1814.5,150.4 L1814.2,149.9 L1813.8,149.4 L1813.5,148.9 L1813.1,148.4 L1812.7,147.8 L1812.4,147.3 L1812.0,146.8 L1811.6,146.3 L1811.2,145.8 L1810.8,145.3 L1810.4,144.7 L1810.0,144.2 L1809.6,143.7 L1809.1,143.2 L1808.7,142.7 L1808.3,142.1 L1807.8,141.6 L1807.4,141.1 L1806.9,140.6 L1806.5,140.1 L1806.0,139.6 L1805.5,139.0 L1805.1,138.5 L1804.6,138.0 L1804.1,137.5 L1803.6,137.0 L1803.1,136.5 L1802.6,135.9 L1802.1,135.4 L1801.5,134.9 L1801.0,134.4 L1800.5,133.9 L1799.9,133.3 L1799.4,132.8 L1798.8,132.3 L1798.2,131.8 L1797.6,131.3 L1797.1,130.8 L1796.5,130.2 L1795.9,129.7 L1795.3,129.2 L1794.6,128.7 L1794.0,128.2 L1793.4,127.7 L1792.7,127.1 L1792.1,126.6 L1791.4,126.1 L1790.8,125.6 L1790.1,125.1 L1789.4,124.6 L1788.7,124.0 L1788.0,123.5 L1787.3,123.0 L1786.6,122.5 L1785.9,122.0 L1785.1,121.5 L1784.4,120.9 L1783.6,120.4 L1782.8,119.9 L1782.1,119.4 L1781.3,118.9 L1780.5,118.4 L1779.7,117.8 L1778.9,117.3 L1778.1,116.8 L1777.2,116.3 L1776.4,115.8 L1775.5,115.3 L1774.7,114.7 L1773.8,114.2 L1772.9,113.7 L1772.0,113.2 L1771.1,112.7 L1770.2,112.2 L1769.3,111.6 L1768.3,111.1 L1767.4,110.6 L1766.4,110.1 L1765.5,109.6 L1764.5,109.1 L1763.5,108.6 L1762.5,108.0 L1761.5,107.5 L1760.5,107.0 L1759.5,106.5 L1758.4,106.0 L1757.4,105.5 L1756.3,104.9 L1755.2,104.4 L1754.2,103.9 L1753.1,103.4 L1752.0,102.9 L1750.8,102.4 L1749.7,101.9 L1748.6,101.4 L1747.4,100.8 L1746.3,100.3 L1745.1,99.8 L1743.9,99.3 L1742.7,98.8 L1741.5,98.3 L1740.3,97.8 L1739.1,97.2 L1737.9,96.7 L1736.6,96.2 L1735.4,95.7 L1734.1,95.2 L1732.8,94.7 L1731.5,94.2 L1730.3,93.7 L1728.9,93.2 L1727.6,92.6 L1726.3,92.1 L1725.0,91.6 L1723.6,91.1 L1722.3,90.6 L1720.9,90.1 L1719.5,89.6 L1718.1,89.1 L1716.8,88.6 L1715.4,88.1 L1713.9,87.6 L1712.5,87.0 L1711.1,86.5 L1709.7,86.0 L1708.2,85.5 L1706.8,85.0 L1705.3,84.5 L1703.8,84.0 L1702.4,83.5 L1700.9,83.0 L1699.4,82.5 L1697.9,82.0 L1696.4,81.5 L1694.9,81.0 L1693.4,80.5 L1691.8,80.0 L1690.3,79.5 L1688.8,79.0 L1687.2,78.5 L1685.7,78.0 L1684.1,77.5 L1682.6,77.0 L1681.0,76.5 L1679.5,76.0 L1677.9,75.5 L1676.3,75.0 L1674.8,74.5 L1673.2,74.0 L1671.6,73.5 L1670.0,73.0 L1668.5,72.5 L1666.9,72.0 L1665.3,71.5 L1663.7,71.1 L1662.1,70.6 L1660.6,70.1 L1659.0,69.6 L1657.4,69.1 L1655.8,68.6 L1654.2,68.1 L1652.7,67.7 L1651.1,67.2 L1649.5,66.7 L1648.0,66.2 L1646.4,65.7 L1644.8,65.3 L1643.3,64.8 L1641.7,64.3 L1640.2,63.8 L1638.6,63.4 L1637.1,62.9 L1635.6,62.4 L1634.1,61.9 L1632.6,61.5 L1631.1,61.0 L1629.6,60.6 L1628.1,60.1 L1626.6,59.6 L1625.1,59.2 L1623.7,58.7 L1622.2,58.3 L1620.8,57.8 L1619.3,57.4 L1617.9,56.9 L1616.5,56.5 L1615.1,56.0 L1613.7,55.6 L1612.4,55.1 L1611.0,54.7 L1609.7,54.3 L1608.3,53.8 L1607.0,53.4 L1605.7,53.0 L1604.4,52.5 L1603.2,52.1 L1601.9,51.7 L1600.7,51.3 L1599.4,50.9 L1598.2,50.4 L1597.0,50.0 L1595.9,49.6 L1594.7,49.2 L1593.6,48.8 L1592.4,48.4 L1591.3,48.0 L1590.2,47.6 L1589.2,47.3 L1588.1,46.9 L1587.1,46.5 L1586.0,46.1 L1585.0,45.7 L1584.1,45.4 L1583.1,45.0 L1582.1,44.6 L1581.2,44.3 L1580.3,43.9 L1579.4,43.6 L1578.5,43.2 L1577.7,42.9 L1576.8,42.5 L1576.0,42.2 L1575.2,41.9 L1574.4,41.6 L1573.7,41.2 L1572.9,40.9 L1572.2,40.6 L1571.5,40.3 L1570.8,40.0 L1570.1,39.7 L1569.5,39.4 L1568.8,39.1 L1568.2,38.8 L1567.6,38.6 L1567.0,38.3 L1566.5,38.0 L1565.9,37.7 L1565.4,37.5 L1564.9,37.2 L1564.4,37.0 L1563.9,36.7 L1563.4,36.5 L1563.0,36.3 L1562.5,36.0 L1562.1,35.8 L1561.7,35.6 L1561.3,35.4 L1560.9,35.2 L1560.5,35.0 L1560.2,34.8 L1559.8,34.6 L1559.5,34.4 L1559.2,34.2 L1558.9,34.1 L1558.6,33.9 L1558.3,33.7 L1558.1,33.6 L1557.8,33.4 L1557.6,33.2 L1557.3,33.1 L1557.1,33.0 L1556.9,32.8 L1556.7,32.7 L1556.5,32.6 L1556.3,32.4 L1556.2,32.3 L1556.0,32.2 L1555.8,32.1 L1555.7,32.0 L1555.6,31.9 L1555.4,31.8 L1555.3,31.7 L1555.2,31.6 L1555.1,31.5 L1555.0,31.5 L1554.9,31.4 L1554.8,31.3 L1554.7,31.2 L1554.6,31.2 L1554.5,31.1 L1554.4,31.0 L1554.4,31.0 L1554.3,30.9 L1554.3,30.9 L1554.2,30.8 L1554.2,30.8 L1554.1,30.7 L1554.1,30.7 L1554.0,30.7 L1554.0,30.6 L1553.9,30.6 L1553.9,30.6 L1553.9,30.5 L1553.9,30.5 L1553.8,30.5 L1553.8,30.5 L1553.8,30.4 L1553.8,30.4 L1553.8,30.4 L1553.7,30.4 L1553.7,30.4 L1553.7,30.4 L1553.7,30.3 L1553.7,30.3 L1553.7,30.3 L1553.7,30.3 L1553.7,30.3 L1553.7,30.3 L1553.6,30.3 L1553.6,30.3 L1553.6,30.3 L1553.6,30.3 L1553.6,30.2 L1553.6,30.2 L1553.6,30.2 L1553.6,30.2 L1553.6,30.2 L1553.6,30.2 L1553.6,30.2 L1553.6,30.2 L1553.6,30.2 L1553.6,30.2 L1553.6,30.2 L1553.6,30.2 L1553.6,30.2 L1553.6,30.2 L1553.6,30.2 L1553.6,30.2 L1553.6,30.2 L1553.6,30.2 L1553.6,30.2 L1553.6,30.2 L1553.6,30.2 L1553.6,30.2 L1553.6,30.2 L1553.6,30.2 L1553.6,30.2 L1553.6,30.2 L1553.6,30.2 L1553.6,30.2 L1553.6,30.2 L1553.6,30.2 L1553.6,30.2 L1553.6,30.2 L1553.6,30.2 L1553.6,30.2 L1553.6,30.2 L1553.6,30.2 L1553.6,30.2 L1553.6,30.2 L1553.6,30.2 L1553.6,30.2 L1553.6,30.2 L1553.6,30.2 L1553.6,30.2 L1553.6,30.2 L1553.6,30.2 L1553.6,30.2 L1553.6,30.2 L1553.6,30.2 L1553.6,30.2 L1553.6,30.2 L1553.6,30.2 L1553.6,30.2 L1553.6,30.2 L1553.6,30.2 L1553.6,30.2 L1553.6,30.2 L1553.6,30.2 L1553.6,30.2 L1553.6,30.2 L1553.6,30.2 L1553.6,30.2 L1553.6,30.2 L1553.6,30.2 L1553.6,30.2 L1553.6,30.2 L1553.6,30.2 L1553.6,30.2 L1553.6,30.2 L1553.6,30.2 L1553.6,30.2 L1553.6,30.2 L1553.6,30.2 L1553.6,30.2 L1553.6,30.2 L1553.6,30.2 L1553.6,30.2 L1553.6,30.2 L1553.6,30.2 L1553.6,30.2 L1553.6,30.2 L1553.6,30.2 L1553.6,30.2 L1553.6,30.2 L1553.6,30.2 L1553.6,30.2 L1553.6,30.2 L1553.6,30.2 L1553.6,30.2 L1553.6,30.2 L1553.6,30.2 L1553.6,30.2 L1553.6,30.2 L1553.6,30.2 L1553.6,30.2 L1553.6,30.2 L1553.6,30.2 L1553.6,30.2 L1553.6,30.2 L1553.6,30.2 L1553.6,30.2 L1553.6,30.2 L1553.6,30.2 L1553.6,30.2 L1553.6,30.2 L1553.6,30.2 L1553.6,30.2 L1553.6,30.2 L1553.6,30.2 L1553.6,30.2 L1553.6,30.2 L1553.6,30.2 L1553.6,30.2 L1553.6,30.2 L1553.6,30.2 L1553.6,30.2 L1553.6,30.2 L1553.6,30.2 L1553.6,30.2 L1553.6,30.2 L1553.6,30.2 L1553.6,30.2 L1553.6,30.2 L1553.6,30.2 L1553.6,30.2 L1553.6,30.2 L1553.6,30.2 L1553.6,30.2 L1553.6,30.2 L1553.6,30.2 L1553.6,30.2 L1553.6,30.2 L1553.6,30.2 L1553.6,30.2 L1553.6,30.2 L1553.6,30.2 L1553.6,30.2 L1553.6,30.2 L1553.6,30.2 L1553.6,30.2 L1553.6,30.2 L1553.6,30.2 L1553.6,30.2 L1553.6,30.2 L1553.6,30.2 L1553.6,30.2 L1553.6,30.2 L1553.6,30.2 L1553.6,30.2 L1553.6,30.2 L1553.6,30.2 L1553.6,30.2 L1553.6,30.2 L1553.6,30.2 L1553.6,30.2 L1553.6,30.2 L1553.6,30.2 L1553.6,30.2 L1553.6,30.2 L1553.6,30.2 L1553.6,30.2 L1553.6,30.2 L1553.6,30.2 L1553.6,30.2 L1554.2,30.2" stroke="#555fb8"/>
</g>
<text x="1547.6" y="42.2" font-size="22.0" text-anchor="end">10<tspan font-size="13.2" dy="-8.5">2</tspan></text>
<text x="1547.6" y="119.0" font-size="22.0" text-anchor="end">10<tspan font-size="13.2" dy="-8.5">1</tspan></text>
<text x="1547.6" y="192.6" font-size="22.0" text-anchor="end">10<tspan font-size="13.2" dy="-8.5">0</tspan></text>
<text x="1547.6" y="265.2" font-size="22.0" text-anchor="end">10<tspan font-size="13.2" dy="-8.5">&#8722;1</tspan></text>
<text x="1611.0" y="279.6" font-size="22.4" fill="#000" text-anchor="middle" >20</text>
<text x="1724.5" y="279.6" font-size="22.4" fill="#000" text-anchor="middle" >60</text>
<text x="1838.1" y="279.6" font-size="22.4" fill="#000" text-anchor="middle" >100</text>
<text x="1683.5" y="18.8" font-size="22.0" fill="#000" text-anchor="middle" textLength="199.3" lengthAdjust="spacing">Local enhancement</text>
<text x="1697.7" y="305.0" font-size="22.3" fill="#000" text-anchor="middle" textLength="91.3" lengthAdjust="spacing">Yield (%)</text>
<text font-size="22.3" text-anchor="middle" textLength="250.5" lengthAdjust="spacing" transform="translate(1499.5 132.5) rotate(-90)">Enantiomeric excess (%)</text>
<line x1="1577" y1="197.0" x2="1614" y2="197.0" stroke="#4a55b8" stroke-width="2"/>
<line x1="1577" y1="212.6" x2="1614" y2="212.6" stroke="#f0b73a" stroke-width="2"/>
<line x1="1577" y1="228.1" x2="1614" y2="228.1" stroke="#58595b" stroke-width="2"/>
<text x="1623.5" y="199" font-size="20">g<tspan font-size="12.2" dy="6">max</tspan></text>
<text x="1623.5" y="216.8" font-size="20">g<tspan font-size="12.2" dy="6">max, Ho et at</tspan></text>
<text x="1623.5" y="234.6" font-size="20">g<tspan font-size="12.2" dy="6">molecule</tspan></text>
<rect x="1169.7" y="351.7" width="664.7" height="257.5" fill="none" stroke="#b9b9b9" stroke-width="1.9"/>
<path d="M1169.7,609.2 v-2.5 M1169.7,351.7 v2.5 M1238.6,609.2 v-2.5 M1238.6,351.7 v2.5 M1287.5,609.2 v-2.5 M1287.5,351.7 v2.5 M1325.4,609.2 v-2.5 M1325.4,351.7 v2.5 M1356.4,609.2 v-2.5 M1356.4,351.7 v2.5 M1382.6,609.2 v-2.5 M1382.6,351.7 v2.5 M1405.2,609.2 v-2.5 M1405.2,351.7 v2.5 M1425.3,609.2 v-2.5 M1425.3,351.7 v2.5 M1443.2,609.2 v-4.5 M1443.2,351.7 v4.5 M1560.9,609.2 v-2.5 M1560.9,351.7 v2.5 M1629.8,609.2 v-2.5 M1629.8,351.7 v2.5 M1678.7,609.2 v-2.5 M1678.7,351.7 v2.5 M1716.6,609.2 v-2.5 M1716.6,351.7 v2.5 M1747.6,609.2 v-2.5 M1747.6,351.7 v2.5 M1773.8,609.2 v-2.5 M1773.8,351.7 v2.5 M1796.5,609.2 v-2.5 M1796.5,351.7 v2.5 M1816.5,609.2 v-2.5 M1816.5,351.7 v2.5 M1169.7,480.5 h5 M1834.4,480.5 h-5" stroke="#bdbdbd" stroke-width="1" fill="none"/>
<path d="M1169.7,480.5 h10" stroke="#bdbdbd" stroke-width="1.2"/>
<clipPath id="cpb"><rect x="1169.7" y="351.7" width="665.7" height="258.5"/></clipPath>
<g clip-path="url(#cpb)" fill="none" stroke-width="2">
<path d="M1169.7,632.1 L1171.4,629.3 L1173.0,626.6 L1174.7,624.0 L1176.3,621.3 L1178.0,618.7 L1179.7,616.1 L1181.3,613.5 L1183.0,611.0 L1184.7,608.4 L1186.3,605.9 L1188.0,603.5 L1189.6,601.0 L1191.3,598.6 L1193.0,596.2 L1194.6,593.8 L1196.3,591.4 L1197.9,589.1 L1199.6,586.8 L1201.3,584.5 L1202.9,582.2 L1204.6,580.0 L1206.3,577.8 L1207.9,575.6 L1209.6,573.4 L1211.2,571.2 L1212.9,569.1 L1214.6,567.0 L1216.2,564.9 L1217.9,562.8 L1219.6,560.7 L1221.2,558.7 L1222.9,556.7 L1224.5,554.7 L1226.2,552.7 L1227.9,550.8 L1229.5,548.8 L1231.2,546.9 L1232.8,545.0 L1234.5,543.1 L1236.2,541.3 L1237.8,539.4 L1239.5,537.6 L1241.2,535.8 L1242.8,534.0 L1244.5,532.2 L1246.1,530.4 L1247.8,528.7 L1249.5,527.0 L1251.1,525.3 L1252.8,523.6 L1254.4,521.9 L1256.1,520.2 L1257.8,518.6 L1259.4,517.0 L1261.1,515.4 L1262.8,513.8 L1264.4,512.2 L1266.1,510.6 L1267.7,509.1 L1269.4,507.6 L1271.1,506.0 L1272.7,504.5 L1274.4,503.0 L1276.1,501.6 L1277.7,500.1 L1279.4,498.7 L1281.0,497.2 L1282.7,495.8 L1284.4,494.4 L1286.0,493.0 L1287.7,491.6 L1289.3,490.3 L1291.0,488.9 L1292.7,487.6 L1294.3,486.3 L1296.0,485.0 L1297.7,483.7 L1299.3,482.4 L1301.0,481.1 L1302.6,479.8 L1304.3,478.6 L1306.0,477.4 L1307.6,476.1 L1309.3,474.9 L1310.9,473.7 L1312.6,472.5 L1314.3,471.4 L1315.9,470.2 L1317.6,469.0 L1319.3,467.9 L1320.9,466.8 L1322.6,465.6 L1324.2,464.5 L1325.9,463.4 L1327.6,462.3 L1329.2,461.3 L1330.9,460.2 L1332.6,459.1 L1334.2,458.1 L1335.9,457.0 L1337.5,456.0 L1339.2,455.0 L1340.9,454.0 L1342.5,453.0 L1344.2,452.0 L1345.8,451.0 L1347.5,450.1 L1349.2,449.1 L1350.8,448.2 L1352.5,447.2 L1354.2,446.3 L1355.8,445.4 L1357.5,444.5 L1359.1,443.6 L1360.8,442.7 L1362.5,441.8 L1364.1,440.9 L1365.8,440.0 L1367.4,439.2 L1369.1,438.3 L1370.8,437.5 L1372.4,436.6 L1374.1,435.8 L1375.8,435.0 L1377.4,434.2 L1379.1,433.4 L1380.7,432.6 L1382.4,431.8 L1384.1,431.0 L1385.7,430.2 L1387.4,429.5 L1389.1,428.7 L1390.7,428.0 L1392.4,427.2 L1394.0,426.5 L1395.7,425.7 L1397.4,425.0 L1399.0,424.3 L1400.7,423.6 L1402.3,422.9 L1404.0,422.2 L1405.7,421.5 L1407.3,420.8 L1409.0,420.2 L1410.7,419.5 L1412.3,418.8 L1414.0,418.2 L1415.6,417.5 L1417.3,416.9 L1419.0,416.3 L1420.6,415.6 L1422.3,415.0 L1423.9,414.4 L1425.6,413.8 L1427.3,413.2 L1428.9,412.6 L1430.6,412.0 L1432.3,411.4 L1433.9,410.8 L1435.6,410.2 L1437.2,409.7 L1438.9,409.1 L1440.6,408.5 L1442.2,408.0 L1443.9,407.4 L1445.6,406.9 L1447.2,406.3 L1448.9,405.8 L1450.5,405.3 L1452.2,404.8 L1453.9,404.2 L1455.5,403.7 L1457.2,403.2 L1458.8,402.7 L1460.5,402.2 L1462.2,401.7 L1463.8,401.2 L1465.5,400.8 L1467.2,400.3 L1468.8,399.8 L1470.5,399.3 L1472.1,398.9 L1473.8,398.4 L1475.5,398.0 L1477.1,397.5 L1478.8,397.1 L1480.4,396.6 L1482.1,396.2 L1483.8,395.7 L1485.4,395.3 L1487.1,394.9 L1488.8,394.5 L1490.4,394.0 L1492.1,393.6 L1493.7,393.2 L1495.4,392.8 L1497.1,392.4 L1498.7,392.0 L1500.4,391.6 L1502.1,391.2 L1503.7,390.8 L1505.4,390.5 L1507.0,390.1 L1508.7,389.7 L1510.4,389.3 L1512.0,389.0 L1513.7,388.6 L1515.3,388.2 L1517.0,387.9 L1518.7,387.5 L1520.3,387.2 L1522.0,386.8 L1523.7,386.5 L1525.3,386.2 L1527.0,385.8 L1528.6,385.5 L1530.3,385.2 L1532.0,384.8 L1533.6,384.5 L1535.3,384.2 L1536.9,383.9 L1538.6,383.6 L1540.3,383.2 L1541.9,382.9 L1543.6,382.6 L1545.3,382.3 L1546.9,382.0 L1548.6,381.7 L1550.2,381.4 L1551.9,381.1 L1553.6,380.9 L1555.2,380.6 L1556.9,380.3 L1558.5,380.0 L1560.2,379.7 L1561.9,379.5 L1563.5,379.2 L1565.2,378.9 L1566.9,378.7 L1568.5,378.4 L1570.2,378.1 L1571.8,377.9 L1573.5,377.6 L1575.2,377.4 L1576.8,377.1 L1578.5,376.9 L1580.2,376.6 L1581.8,376.4 L1583.5,376.1 L1585.1,375.9 L1586.8,375.7 L1588.5,375.4 L1590.1,375.2 L1591.8,375.0 L1593.4,374.7 L1595.1,374.5 L1596.8,374.3 L1598.4,374.1 L1600.1,373.8 L1601.8,373.6 L1603.4,373.4 L1605.1,373.2 L1606.7,373.0 L1608.4,372.8 L1610.1,372.6 L1611.7,372.4 L1613.4,372.2 L1615.0,372.0 L1616.7,371.8 L1618.4,371.6 L1620.0,371.4 L1621.7,371.2 L1623.4,371.0 L1625.0,370.8 L1626.7,370.6 L1628.3,370.4 L1630.0,370.2 L1631.7,370.1 L1633.3,369.9 L1635.0,369.7 L1636.7,369.5 L1638.3,369.3 L1640.0,369.2 L1641.6,369.0 L1643.3,368.8 L1645.0,368.7 L1646.6,368.5 L1648.3,368.3 L1649.9,368.2 L1651.6,368.0 L1653.3,367.9 L1654.9,367.7 L1656.6,367.5 L1658.3,367.4 L1659.9,367.2 L1661.6,367.1 L1663.2,366.9 L1664.9,366.8 L1666.6,366.6 L1668.2,366.5 L1669.9,366.3 L1671.5,366.2 L1673.2,366.0 L1674.9,365.9 L1676.5,365.8 L1678.2,365.6 L1679.9,365.5 L1681.5,365.4 L1683.2,365.2 L1684.8,365.1 L1686.5,365.0 L1688.2,364.8 L1689.8,364.7 L1691.5,364.6 L1693.2,364.4 L1694.8,364.3 L1696.5,364.2 L1698.1,364.1 L1699.8,363.9 L1701.5,363.8 L1703.1,363.7 L1704.8,363.6 L1706.4,363.5 L1708.1,363.4 L1709.8,363.2 L1711.4,363.1 L1713.1,363.0 L1714.8,362.9 L1716.4,362.8 L1718.1,362.7 L1719.7,362.6 L1721.4,362.5 L1723.1,362.4 L1724.7,362.3 L1726.4,362.2 L1728.0,362.1 L1729.7,361.9 L1731.4,361.8 L1733.0,361.7 L1734.7,361.6 L1736.4,361.5 L1738.0,361.5 L1739.7,361.4 L1741.3,361.3 L1743.0,361.2 L1744.7,361.1 L1746.3,361.0 L1748.0,360.9 L1749.7,360.8 L1751.3,360.7 L1753.0,360.6 L1754.6,360.5 L1756.3,360.4 L1758.0,360.4 L1759.6,360.3 L1761.3,360.2 L1762.9,360.1 L1764.6,360.0 L1766.3,359.9 L1767.9,359.9 L1769.6,359.8 L1771.3,359.7 L1772.9,359.6 L1774.6,359.5 L1776.2,359.5 L1777.9,359.4 L1779.6,359.3 L1781.2,359.2 L1782.9,359.2 L1784.5,359.1 L1786.2,359.0 L1787.9,358.9 L1789.5,358.9 L1791.2,358.8 L1792.9,358.7 L1794.5,358.7 L1796.2,358.6 L1797.8,358.5 L1799.5,358.4 L1801.2,358.4 L1802.8,358.3 L1804.5,358.2 L1806.2,358.2 L1807.8,358.1 L1809.5,358.1 L1811.1,358.0 L1812.8,357.9 L1814.5,357.9 L1816.1,357.8 L1817.8,357.7 L1819.4,357.7 L1821.1,357.6 L1822.8,357.6 L1824.4,357.5 L1826.1,357.5 L1827.8,357.4 L1829.4,357.3 L1831.1,357.3 L1832.7,357.2 L1834.4,357.2" stroke="#2b86c9"/>
<path d="M1236.2,734.4 L1237.8,730.7 L1239.5,727.0 L1241.2,723.3 L1242.8,719.7 L1244.5,716.1 L1246.1,712.6 L1247.8,709.1 L1249.5,705.6 L1251.1,702.1 L1252.8,698.7 L1254.4,695.3 L1256.1,692.0 L1257.8,688.7 L1259.4,685.4 L1261.1,682.1 L1262.8,678.9 L1264.4,675.7 L1266.1,672.6 L1267.7,669.4 L1269.4,666.3 L1271.1,663.3 L1272.7,660.2 L1274.4,657.2 L1276.1,654.2 L1277.7,651.3 L1279.4,648.4 L1281.0,645.5 L1282.7,642.6 L1284.4,639.8 L1286.0,637.0 L1287.7,634.2 L1289.3,631.4 L1291.0,628.7 L1292.7,626.0 L1294.3,623.3 L1296.0,620.7 L1297.7,618.0 L1299.3,615.4 L1301.0,612.9 L1302.6,610.3 L1304.3,607.8 L1306.0,605.3 L1307.6,602.8 L1309.3,600.4 L1310.9,598.0 L1312.6,595.6 L1314.3,593.2 L1315.9,590.8 L1317.6,588.5 L1319.3,586.2 L1320.9,583.9 L1322.6,581.6 L1324.2,579.4 L1325.9,577.2 L1327.6,575.0 L1329.2,572.8 L1330.9,570.6 L1332.6,568.5 L1334.2,566.4 L1335.9,564.3 L1337.5,562.2 L1339.2,560.1 L1340.9,558.1 L1342.5,556.1 L1344.2,554.1 L1345.8,552.1 L1347.5,550.2 L1349.2,548.2 L1350.8,546.3 L1352.5,544.4 L1354.2,542.5 L1355.8,540.7 L1357.5,538.8 L1359.1,537.0 L1360.8,535.2 L1362.5,533.4 L1364.1,531.6 L1365.8,529.9 L1367.4,528.1 L1369.1,526.4 L1370.8,524.7 L1372.4,523.0 L1374.1,521.3 L1375.8,519.7 L1377.4,518.0 L1379.1,516.4 L1380.7,514.8 L1382.4,513.2 L1384.1,511.6 L1385.7,510.1 L1387.4,508.5 L1389.1,507.0 L1390.7,505.5 L1392.4,504.0 L1394.0,502.5 L1395.7,501.0 L1397.4,499.6 L1399.0,498.1 L1400.7,496.7 L1402.3,495.3 L1404.0,493.9 L1405.7,492.5 L1407.3,491.1 L1409.0,489.7 L1410.7,488.4 L1412.3,487.1 L1414.0,485.7 L1415.6,484.4 L1417.3,483.1 L1419.0,481.8 L1420.6,480.6 L1422.3,479.3 L1423.9,478.1 L1425.6,476.8 L1427.3,475.6 L1428.9,474.4 L1430.6,473.2 L1432.3,472.0 L1433.9,470.8 L1435.6,469.7 L1437.2,468.5 L1438.9,467.4 L1440.6,466.2 L1442.2,465.1 L1443.9,464.0 L1445.6,462.9 L1447.2,461.8 L1448.9,460.7 L1450.5,459.7 L1452.2,458.6 L1453.9,457.6 L1455.5,456.5 L1457.2,455.5 L1458.8,454.5 L1460.5,453.5 L1462.2,452.5 L1463.8,451.5 L1465.5,450.5 L1467.2,449.6 L1468.8,448.6 L1470.5,447.7 L1472.1,446.7 L1473.8,445.8 L1475.5,444.9 L1477.1,444.0 L1478.8,443.0 L1480.4,442.2 L1482.1,441.3 L1483.8,440.4 L1485.4,439.5 L1487.1,438.7 L1488.8,437.8 L1490.4,437.0 L1492.1,436.1 L1493.7,435.3 L1495.4,434.5 L1497.1,433.7 L1498.7,432.9 L1500.4,432.1 L1502.1,431.3 L1503.7,430.5 L1505.4,429.7 L1507.0,429.0 L1508.7,428.2 L1510.4,427.5 L1512.0,426.7 L1513.7,426.0 L1515.3,425.3 L1517.0,424.5 L1518.7,423.8 L1520.3,423.1 L1522.0,422.4 L1523.7,421.7 L1525.3,421.0 L1527.0,420.3 L1528.6,419.7 L1530.3,419.0 L1532.0,418.3 L1533.6,417.7 L1535.3,417.0 L1536.9,416.4 L1538.6,415.8 L1540.3,415.1 L1541.9,414.5 L1543.6,413.9 L1545.3,413.3 L1546.9,412.7 L1548.6,412.1 L1550.2,411.5 L1551.9,410.9 L1553.6,410.3 L1555.2,409.7 L1556.9,409.2 L1558.5,408.6 L1560.2,408.1 L1561.9,407.5 L1563.5,406.9 L1565.2,406.4 L1566.9,405.9 L1568.5,405.3 L1570.2,404.8 L1571.8,404.3 L1573.5,403.8 L1575.2,403.3 L1576.8,402.7 L1578.5,402.2 L1580.2,401.7 L1581.8,401.3 L1583.5,400.8 L1585.1,400.3 L1586.8,399.8 L1588.5,399.3 L1590.1,398.9 L1591.8,398.4 L1593.4,397.9 L1595.1,397.5 L1596.8,397.0 L1598.4,396.6 L1600.1,396.1 L1601.8,395.7 L1603.4,395.3 L1605.1,394.8 L1606.7,394.4 L1608.4,394.0 L1610.1,393.6 L1611.7,393.2 L1613.4,392.8 L1615.0,392.4 L1616.7,391.9 L1618.4,391.6 L1620.0,391.2 L1621.7,390.8 L1623.4,390.4 L1625.0,390.0 L1626.7,389.6 L1628.3,389.2 L1630.0,388.9 L1631.7,388.5 L1633.3,388.1 L1635.0,387.8 L1636.7,387.4 L1638.3,387.1 L1640.0,386.7 L1641.6,386.4 L1643.3,386.0 L1645.0,385.7 L1646.6,385.4 L1648.3,385.0 L1649.9,384.7 L1651.6,384.4 L1653.3,384.0 L1654.9,383.7 L1656.6,383.4 L1658.3,383.1 L1659.9,382.8 L1661.6,382.5 L1663.2,382.2 L1664.9,381.9 L1666.6,381.6 L1668.2,381.3 L1669.9,381.0 L1671.5,380.7 L1673.2,380.4 L1674.9,380.1 L1676.5,379.8 L1678.2,379.6 L1679.9,379.3 L1681.5,379.0 L1683.2,378.7 L1684.8,378.5 L1686.5,378.2 L1688.2,377.9 L1689.8,377.7 L1691.5,377.4 L1693.2,377.2 L1694.8,376.9 L1696.5,376.7 L1698.1,376.4 L1699.8,376.2 L1701.5,375.9 L1703.1,375.7 L1704.8,375.4 L1706.4,375.2 L1708.1,375.0 L1709.8,374.7 L1711.4,374.5 L1713.1,374.3 L1714.8,374.1 L1716.4,373.8 L1718.1,373.6 L1719.7,373.4 L1721.4,373.2 L1723.1,373.0 L1724.7,372.7 L1726.4,372.5 L1728.0,372.3 L1729.7,372.1 L1731.4,371.9 L1733.0,371.7 L1734.7,371.5 L1736.4,371.3 L1738.0,371.1 L1739.7,370.9 L1741.3,370.7 L1743.0,370.5 L1744.7,370.4 L1746.3,370.2 L1748.0,370.0 L1749.7,369.8 L1751.3,369.6 L1753.0,369.4 L1754.6,369.3 L1756.3,369.1 L1758.0,368.9 L1759.6,368.7 L1761.3,368.6 L1762.9,368.4 L1764.6,368.2 L1766.3,368.1 L1767.9,367.9 L1769.6,367.7 L1771.3,367.6 L1772.9,367.4 L1774.6,367.2 L1776.2,367.1 L1777.9,366.9 L1779.6,366.8 L1781.2,366.6 L1782.9,366.5 L1784.5,366.3 L1786.2,366.2 L1787.9,366.0 L1789.5,365.9 L1791.2,365.7 L1792.9,365.6 L1794.5,365.5 L1796.2,365.3 L1797.8,365.2 L1799.5,365.0 L1801.2,364.9 L1802.8,364.8 L1804.5,364.6 L1806.2,364.5 L1807.8,364.4 L1809.5,364.3 L1811.1,364.1 L1812.8,364.0 L1814.5,363.9 L1816.1,363.8 L1817.8,363.6 L1819.4,363.5 L1821.1,363.4 L1822.8,363.3 L1824.4,363.2 L1826.1,363.0 L1827.8,362.9 L1829.4,362.8 L1831.1,362.7 L1832.7,362.6 L1834.4,362.5" stroke="#b9604a"/>
<path d="M1404.0,734.4 L1405.7,730.7 L1407.3,726.9 L1409.0,723.2 L1410.7,719.6 L1412.3,716.0 L1414.0,712.4 L1415.6,708.8 L1417.3,705.3 L1419.0,701.8 L1420.6,698.4 L1422.3,695.0 L1423.9,691.6 L1425.6,688.3 L1427.3,684.9 L1428.9,681.7 L1430.6,678.4 L1432.3,675.2 L1433.9,672.0 L1435.6,668.8 L1437.2,665.7 L1438.9,662.6 L1440.6,659.6 L1442.2,656.5 L1443.9,653.5 L1445.6,650.5 L1447.2,647.6 L1448.9,644.7 L1450.5,641.8 L1452.2,638.9 L1453.9,636.1 L1455.5,633.3 L1457.2,630.5 L1458.8,627.7 L1460.5,625.0 L1462.2,622.3 L1463.8,619.6 L1465.5,617.0 L1467.2,614.4 L1468.8,611.8 L1470.5,609.2 L1472.1,606.7 L1473.8,604.1 L1475.5,601.7 L1477.1,599.2 L1478.8,596.7 L1480.4,594.3 L1482.1,591.9 L1483.8,589.5 L1485.4,587.2 L1487.1,584.8 L1488.8,582.5 L1490.4,580.3 L1492.1,578.0 L1493.7,575.7 L1495.4,573.5 L1497.1,571.3 L1498.7,569.2 L1500.4,567.0 L1502.1,564.9 L1503.7,562.8 L1505.4,560.7 L1507.0,558.6 L1508.7,556.5 L1510.4,554.5 L1512.0,552.5 L1513.7,550.5 L1515.3,548.5 L1517.0,546.6 L1518.7,544.6 L1520.3,542.7 L1522.0,540.8 L1523.7,538.9 L1525.3,537.1 L1527.0,535.2 L1528.6,533.4 L1530.3,531.6 L1532.0,529.8 L1533.6,528.0 L1535.3,526.3 L1536.9,524.5 L1538.6,522.8 L1540.3,521.1 L1541.9,519.4 L1543.6,517.8 L1545.3,516.1 L1546.9,514.5 L1548.6,512.8 L1550.2,511.2 L1551.9,509.6 L1553.6,508.1 L1555.2,506.5 L1556.9,505.0 L1558.5,503.4 L1560.2,501.9 L1561.9,500.4 L1563.5,498.9 L1565.2,497.4 L1566.9,496.0 L1568.5,494.5 L1570.2,493.1 L1571.8,491.7 L1573.5,490.3 L1575.2,488.9 L1576.8,487.5 L1578.5,486.2 L1580.2,484.8 L1581.8,483.5 L1583.5,482.2 L1585.1,480.9 L1586.8,479.6 L1588.5,478.3 L1590.1,477.0 L1591.8,475.8 L1593.4,474.5 L1595.1,473.3 L1596.8,472.1 L1598.4,470.8 L1600.1,469.6 L1601.8,468.5 L1603.4,467.3 L1605.1,466.1 L1606.7,465.0 L1608.4,463.8 L1610.1,462.7 L1611.7,461.6 L1613.4,460.5 L1615.0,459.4 L1616.7,458.3 L1618.4,457.2 L1620.0,456.1 L1621.7,455.1 L1623.4,454.0 L1625.0,453.0 L1626.7,452.0 L1628.3,451.0 L1630.0,450.0 L1631.7,449.0 L1633.3,448.0 L1635.0,447.0 L1636.7,446.0 L1638.3,445.1 L1640.0,444.1 L1641.6,443.2 L1643.3,442.3 L1645.0,441.3 L1646.6,440.4 L1648.3,439.5 L1649.9,438.6 L1651.6,437.7 L1653.3,436.9 L1654.9,436.0 L1656.6,435.1 L1658.3,434.3 L1659.9,433.4 L1661.6,432.6 L1663.2,431.8 L1664.9,431.0 L1666.6,430.2 L1668.2,429.4 L1669.9,428.6 L1671.5,427.8 L1673.2,427.0 L1674.9,426.2 L1676.5,425.5 L1678.2,424.7 L1679.9,423.9 L1681.5,423.2 L1683.2,422.5 L1684.8,421.7 L1686.5,421.0 L1688.2,420.3 L1689.8,419.6 L1691.5,418.9 L1693.2,418.2 L1694.8,417.5 L1696.5,416.8 L1698.1,416.2 L1699.8,415.5 L1701.5,414.8 L1703.1,414.2 L1704.8,413.5 L1706.4,412.9 L1708.1,412.3 L1709.8,411.6 L1711.4,411.0 L1713.1,410.4 L1714.8,409.8 L1716.4,409.2 L1718.1,408.6 L1719.7,408.0 L1721.4,407.4 L1723.1,406.8 L1724.7,406.2 L1726.4,405.7 L1728.0,405.1 L1729.7,404.6 L1731.4,404.0 L1733.0,403.5 L1734.7,402.9 L1736.4,402.4 L1738.0,401.8 L1739.7,401.3 L1741.3,400.8 L1743.0,400.3 L1744.7,399.8 L1746.3,399.3 L1748.0,398.8 L1749.7,398.3 L1751.3,397.8 L1753.0,397.3 L1754.6,396.8 L1756.3,396.3 L1758.0,395.8 L1759.6,395.4 L1761.3,394.9 L1762.9,394.5 L1764.6,394.0 L1766.3,393.5 L1767.9,393.1 L1769.6,392.7 L1771.3,392.2 L1772.9,391.8 L1774.6,391.4 L1776.2,390.9 L1777.9,390.5 L1779.6,390.1 L1781.2,389.7 L1782.9,389.3 L1784.5,388.9 L1786.2,388.5 L1787.9,388.1 L1789.5,387.7 L1791.2,387.3 L1792.9,386.9 L1794.5,386.5 L1796.2,386.1 L1797.8,385.8 L1799.5,385.4 L1801.2,385.0 L1802.8,384.7 L1804.5,384.3 L1806.2,383.9 L1807.8,383.6 L1809.5,383.2 L1811.1,382.9 L1812.8,382.6 L1814.5,382.2 L1816.1,381.9 L1817.8,381.5 L1819.4,381.2 L1821.1,380.9 L1822.8,380.6 L1824.4,380.2 L1826.1,379.9 L1827.8,379.6 L1829.4,379.3 L1831.1,379.0 L1832.7,378.7 L1834.4,378.4" stroke="#7dba42"/>
<path d="M1649.9,735.2 L1651.6,730.9 L1653.3,726.7 L1654.9,722.5 L1656.6,718.4 L1658.3,714.3 L1659.9,710.2 L1661.6,706.2 L1663.2,702.2 L1664.9,698.2 L1666.6,694.3 L1668.2,690.5 L1669.9,686.6 L1671.5,682.8 L1673.2,679.1 L1674.9,675.4 L1676.5,671.7 L1678.2,668.0 L1679.9,664.4 L1681.5,660.9 L1683.2,657.3 L1684.8,653.8 L1686.5,650.3 L1688.2,646.9 L1689.8,643.5 L1691.5,640.1 L1693.2,636.8 L1694.8,633.5 L1696.5,630.2 L1698.1,626.9 L1699.8,623.7 L1701.5,620.6 L1703.1,617.4 L1704.8,614.3 L1706.4,611.2 L1708.1,608.1 L1709.8,605.1 L1711.4,602.1 L1713.1,599.1 L1714.8,596.2 L1716.4,593.3 L1718.1,590.4 L1719.7,587.5 L1721.4,584.7 L1723.1,581.9 L1724.7,579.1 L1726.4,576.4 L1728.0,573.7 L1729.7,571.0 L1731.4,568.3 L1733.0,565.7 L1734.7,563.1 L1736.4,560.5 L1738.0,557.9 L1739.7,555.4 L1741.3,552.9 L1743.0,550.4 L1744.7,547.9 L1746.3,545.5 L1748.0,543.0 L1749.7,540.6 L1751.3,538.3 L1753.0,535.9 L1754.6,533.6 L1756.3,531.3 L1758.0,529.0 L1759.6,526.8 L1761.3,524.5 L1762.9,522.3 L1764.6,520.1 L1766.3,517.9 L1767.9,515.8 L1769.6,513.7 L1771.3,511.5 L1772.9,509.5 L1774.6,507.4 L1776.2,505.3 L1777.9,503.3 L1779.6,501.3 L1781.2,499.3 L1782.9,497.3 L1784.5,495.4 L1786.2,493.5 L1787.9,491.6 L1789.5,489.7 L1791.2,487.8 L1792.9,485.9 L1794.5,484.1 L1796.2,482.3 L1797.8,480.5 L1799.5,478.7 L1801.2,476.9 L1802.8,475.2 L1804.5,473.4 L1806.2,471.7 L1807.8,470.0 L1809.5,468.3 L1811.1,466.6 L1812.8,465.0 L1814.5,463.4 L1816.1,461.7 L1817.8,460.1 L1819.4,458.5 L1821.1,457.0 L1822.8,455.4 L1824.4,453.9 L1826.1,452.3 L1827.8,450.8 L1829.4,449.3 L1831.1,447.9 L1832.7,446.4 L1834.4,444.9" stroke="#8e3c97"/>
</g>
<line x1="1487.7" y1="351.7" x2="1487.7" y2="609.2" stroke="#5e5e5e" stroke-width="1.8" stroke-dasharray="1 1"/>
<line x1="1744.7" y1="351.7" x2="1744.7" y2="609.2" stroke="#5e5e5e" stroke-width="1.8" stroke-dasharray="1 1"/>
<text x="1161.2" y="362.7" font-size="22.5" text-anchor="end">10<tspan font-size="13.5" dy="-8.5">2</tspan></text>
<text x="1161.2" y="490.0" font-size="22.5" text-anchor="end">10<tspan font-size="13.5" dy="-8.5">0</tspan></text>
<text x="1161.2" y="618.7" font-size="22.5" text-anchor="end">10<tspan font-size="13.5" dy="-8.5">&#8722;2</tspan></text>
<text x="1442.7" y="633" font-size="22.5" text-anchor="middle">10<tspan font-size="13" dy="-8.5">&#8722;1</tspan></text>
<text x="1849" y="633" font-size="22.5" text-anchor="end">10<tspan font-size="13" dy="-8.5">0</tspan></text>
<text x="1483.0" y="652.6" font-size="23.3" fill="#000" text-anchor="middle" >g</text>
<text font-size="24.4" text-anchor="middle" transform="translate(1095.6 477) rotate(-90)" textLength="99.5" lengthAdjust="spacing">Yield (%)</text>
<text x="1219.5" y="325.6" font-size="17.5">g<tspan font-size="12.3" dy="9" dx="1">molecule</tspan></text>
<text x="1468" y="325.6" font-size="17.5">g<tspan font-size="12.3" dy="9" dx="1">R = 40 nm</tspan></text>
<text x="1726.5" y="325.6" font-size="17.5">g<tspan font-size="12.3" dy="9" dx="1">max</tspan></text>
<path d="M1238.6,338.8 V348" stroke="#1a1a1a" stroke-width="1.6" fill="none"/>
<path d="M1238.6,350.8 l-5.4,-8.2 l5.4,2.4 l5.4,-2.4 Z" fill="#1a1a1a"/>
<path d="M1487.7,338.8 V348" stroke="#1a1a1a" stroke-width="1.6" fill="none"/>
<path d="M1487.7,350.8 l-5.4,-8.2 l5.4,2.4 l5.4,-2.4 Z" fill="#1a1a1a"/>
<path d="M1744.7,338.8 V348" stroke="#1a1a1a" stroke-width="1.6" fill="none"/>
<path d="M1744.7,350.8 l-5.4,-8.2 l5.4,2.4 l5.4,-2.4 Z" fill="#1a1a1a"/>
<text font-size="20.5" fill="#3f86c0" text-anchor="middle" transform="translate(1289.8 461.5) rotate(-34)" dy="7">ee = 10%</text>
<text font-size="20.5" fill="#b05a5a" text-anchor="middle" transform="translate(1372.2 485.5) rotate(-36)" dy="7">ee = 20%</text>
<text font-size="20.5" fill="#7ab648" text-anchor="middle" transform="translate(1532.4 499.7) rotate(-48)" dy="7">ee = 50%</text>
<text font-size="20.5" fill="#8e4a9a" text-anchor="middle" transform="translate(1702.1 560.7) rotate(-49)" dy="7">ee = 99%</text>
<text x="482.5" y="690.0" font-size="42.0" fill="#000" font-weight="bold" >C</text>
<rect x="582" y="687.6" width="21.5" height="360.6" fill="url(#rwb)"/>
<path d="M582.4,800 V960 M603.1,800 V960" stroke="#a9a9a9" stroke-width="0.9" fill="none"/>
<path d="M582,1011.9 h3.5 M582,975.9 h3.5 M582,939.9 h3.5 M582,903.9 h3.5 M582,867.9 h3.5 M582,831.9 h3.5 M582,795.9 h3.5 M582,759.9 h3.5 M582,723.9 h3.5" stroke="#9a9a9a" stroke-width="1"/>
<text x="575.5" y="733.8" font-size="27.6" fill="#000" text-anchor="end" >4</text>
<text x="575.5" y="805.8" font-size="27.6" fill="#000" text-anchor="end" >2</text>
<text x="575.5" y="877.8" font-size="27.6" fill="#000" text-anchor="end" >0</text>
<text x="575.5" y="949.8" font-size="27.6" fill="#000" text-anchor="end" >&#8211;2</text>
<text x="575.5" y="1021.8" font-size="27.6" fill="#000" text-anchor="end" >&#8211;4</text>
<text font-size="27.6" text-anchor="middle" transform="translate(508.5 868) rotate(-90)">g/g<tspan font-size="16" dy="5">CPL</tspan></text>
<text x="613.5" y="701.6" font-size="29.0" fill="#000" >R-enantiomer</text>
<text x="852.0" y="701.6" font-size="29.0" fill="#000" >S-enantiomer</text>
<g>
<path d="M618.0,748.0 L640.0,728.0 L700.0,786.0 L688.0,806.0 Z" fill="#f4a6a6" opacity="0.22" filter="url(#glow6)"/>
<ellipse cx="701.5" cy="756" rx="20" ry="34" fill="#ee3a3a" opacity="0.62" filter="url(#glow6)"/>
<path d="M748.0,840.0 L712.0,811.0" stroke="#f59090" stroke-width="12" stroke-linecap="round" opacity="0.55" filter="url(#glow4)"/>
<path d="M755.5,840.5 L745.5,851.5 L719.0,818.0 Z" fill="#ed1c24" filter="url(#glow25)"/>
<ellipse cx="690.0" cy="880" rx="42" ry="13" fill="#f7b4b4" opacity="0.45" filter="url(#glow6)" transform="rotate(10 690.0 880)"/>
<path d="M730.0,890.0 L690.0,881.0" stroke="#f28080" stroke-width="10" stroke-linecap="round" opacity="0.6" filter="url(#glow4)"/>
<path d="M740.0,884.5 L738.0,900.0 L693.0,884.0 Z" fill="#ed1c24" filter="url(#glow25)"/>
<path d="M750.0,940.0 L737.5,954.5" stroke="#3a49bd" stroke-width="9" stroke-linecap="round" fill="none" opacity="0.9" filter="url(#glow25)"/>
<ellipse cx="797.0" cy="1011" rx="15" ry="9" fill="#ef4a4a" opacity="0.62" filter="url(#glow4)" transform="rotate(28 797.0 1011)"/>
<path d="M1026.8,748.0 L1004.8,728.0 L944.8,786.0 L956.8,806.0 Z" fill="#f4a6a6" opacity="0.22" filter="url(#glow6)"/>
<ellipse cx="943.3" cy="756" rx="20" ry="34" fill="#ee3a3a" opacity="0.28" filter="url(#glow6)"/>
<path d="M896.8,840.0 L932.8,811.0" stroke="#f59090" stroke-width="12" stroke-linecap="round" opacity="0.55" filter="url(#glow4)"/>
<path d="M889.3,840.5 L899.3,851.5 L925.8,818.0 Z" fill="#ed1c24" filter="url(#glow25)"/>
<ellipse cx="954.8" cy="880" rx="42" ry="13" fill="#f7b4b4" opacity="0.45" filter="url(#glow6)" transform="rotate(-10 954.8 880)"/>
<path d="M914.8,890.0 L954.8,881.0" stroke="#f28080" stroke-width="10" stroke-linecap="round" opacity="0.6" filter="url(#glow4)"/>
<path d="M904.8,884.5 L906.8,900.0 L951.8,884.0 Z" fill="#ed1c24" filter="url(#glow25)"/>
<path d="M894.8,940.0 L907.3,954.5" stroke="#3a49bd" stroke-width="9" stroke-linecap="round" fill="none" opacity="0.9" filter="url(#glow25)"/>
<ellipse cx="847.8" cy="1011" rx="15" ry="9" fill="#ef4a4a" opacity="0.62" filter="url(#glow4)" transform="rotate(-28 847.8 1011)"/>
<ellipse cx="822.6" cy="1027" rx="17" ry="9" fill="#ef4a4a" opacity="0.5" filter="url(#glow4)"/>
<path d="M785,812 C776,764 794,742.5 822.6,742.5 C851,742.5 869,764 860,812" stroke="#6f72cc" stroke-width="18" fill="none" opacity="0.74" filter="url(#glow5)"/>
</g>
<g filter="url(#blC)">
<circle cx="822.4" cy="891.8" r="88.2" fill="url(#sphL)"/>
<circle cx="822.4" cy="891.8" r="88.2" fill="url(#sphE)"/>
<ellipse cx="822.4" cy="931.8" rx="52" ry="40" fill="url(#sphH)"/>
<line x1="700.6" y1="780.7" x2="700.6" y2="725.2" stroke="#a3a5a7" stroke-width="3.8"/>
<line x1="700.6" y1="780.7" x2="650.1" y2="785.2" stroke="#a3a5a7" stroke-width="3.2"/>
<polygon points="699.6,780.5 684.0,834.6 690.8,836.2 701.6,780.9" fill="#a3a5a7" stroke="#a3a5a7" stroke-width="0.7" stroke-linejoin="round" />
<path d="M713.7,789.0 L715.0,786.3 M718.5,792.2 L720.5,788.3 M723.3,795.4 L725.9,790.2 M728.0,798.6 L731.3,792.2 M732.8,801.8 L736.7,794.1 M737.6,805.0 L742.1,796.1" stroke="#7b7d7f" stroke-width="2.6" fill="none"/>
<circle cx="650.1" cy="785.2" r="8.7" fill="url(#bGrn)"/>
<circle cx="687.4" cy="835.4" r="10.7" fill="url(#bBlu)"/>
<circle cx="751.6" cy="806.5" r="8.9" fill="url(#bWht)"/>
<circle cx="700.6" cy="725.2" r="19.2" fill="url(#bRed)"/>
<circle cx="700.6" cy="780.7" r="13.2" fill="url(#bBlk)"/>
<line x1="940.7" y1="780.7" x2="940.7" y2="725.2" stroke="#a3a5a7" stroke-width="3.8"/>
<line x1="940.7" y1="780.7" x2="991.2" y2="785.2" stroke="#a3a5a7" stroke-width="3.2"/>
<polygon points="939.7,780.9 950.5,836.2 957.3,834.6 941.7,780.5" fill="#a3a5a7" stroke="#a3a5a7" stroke-width="0.7" stroke-linejoin="round" />
<path d="M926.3,786.3 L927.6,789.0 M920.8,788.3 L922.8,792.2 M915.4,790.2 L918.0,795.4 M910.0,792.2 L913.3,798.6 M904.6,794.1 L908.5,801.8 M899.2,796.1 L903.7,805.0" stroke="#7b7d7f" stroke-width="2.6" fill="none"/>
<circle cx="991.2" cy="785.2" r="8.7" fill="url(#bGrn)"/>
<circle cx="953.9" cy="835.4" r="10.7" fill="url(#bBlu)"/>
<circle cx="889.7" cy="806.5" r="8.9" fill="url(#bWht)"/>
<circle cx="940.7" cy="725.2" r="19.2" fill="url(#bRed)"/>
<circle cx="940.7" cy="780.7" r="13.2" fill="url(#bBlk)"/>
</g>
<text x="816.0" y="908.5" font-size="27.5" fill="#000" text-anchor="middle" >Si</text>
<g filter="url(#blC)">
<path d="M863.5,1038 C866,1027 845,1021.5 822,1021.5 C798,1021.5 779.5,1027.5 780,1036.5 C780.5,1046 800,1051 828,1051" stroke="#b8202c" stroke-width="4.8" fill="none" stroke-linecap="round"/>
<path d="M841,1051 L824.5,1043.5 L826,1051 L824.5,1058.5 Z" fill="#c4232d"/>
<line x1="822.7" y1="1039" x2="822.7" y2="997" stroke="#c4232d" stroke-width="4.6"/>
<path d="M822.7,982.4 L831,999.6 L814.4,999.6 Z" fill="#cf222b"/>
</g>
<text x="720.5" y="1048.4" font-size="27.5" fill="#000" >CPL</text>
<path d="M1020.6,898.6 H1078 V904.4 H1020.6 Z" fill="#1a1a1a"/>
<path d="M1108,901.5 L1070.5,885.5 L1079,901.5 L1070.5,917.5 Z" fill="#1a1a1a"/>
<g filter="url(#blC)">
<circle cx="1271.4" cy="892.4" r="88.7" fill="url(#sphL)"/>
<circle cx="1271.4" cy="892.4" r="88.7" fill="url(#sphE)"/>
<ellipse cx="1271.4" cy="932.4" rx="52" ry="40" fill="url(#sphH)"/>
<line x1="1152.5" y1="780.6" x2="1102.0" y2="785.1" stroke="#a3a5a7" stroke-width="3.2"/>
<polygon points="1151.5,780.4 1135.9,834.5 1142.7,836.1 1153.5,780.8" fill="#a3a5a7" stroke="#a3a5a7" stroke-width="0.7" stroke-linejoin="round" />
<path d="M1165.6,788.9 L1166.9,786.2 M1170.4,792.1 L1172.4,788.2 M1175.2,795.3 L1177.8,790.1 M1179.9,798.5 L1183.2,792.1 M1184.7,801.7 L1188.6,794.0 M1189.5,804.9 L1194.0,796.0" stroke="#7b7d7f" stroke-width="2.6" fill="none"/>
<circle cx="1102.0" cy="785.1" r="8.7" fill="url(#bGrn)"/>
<circle cx="1139.3" cy="835.3" r="10.7" fill="url(#bBlu)"/>
<circle cx="1203.5" cy="806.4" r="8.9" fill="url(#bWht)"/>
<circle cx="1152.5" cy="780.6" r="13.2" fill="url(#bBlk)"/>
<line x1="1388.3" y1="780.6" x2="1388.3" y2="725.1" stroke="#a3a5a7" stroke-width="3.8"/>
<line x1="1388.3" y1="780.6" x2="1438.8" y2="785.1" stroke="#a3a5a7" stroke-width="3.2"/>
<polygon points="1387.3,780.8 1398.1,836.1 1404.9,834.5 1389.3,780.4" fill="#a3a5a7" stroke="#a3a5a7" stroke-width="0.7" stroke-linejoin="round" />
<path d="M1373.9,786.2 L1375.2,788.9 M1368.4,788.2 L1370.4,792.1 M1363.0,790.1 L1365.6,795.3 M1357.6,792.1 L1360.9,798.5 M1352.2,794.0 L1356.1,801.7 M1346.8,796.0 L1351.3,804.9" stroke="#7b7d7f" stroke-width="2.6" fill="none"/>
<circle cx="1438.8" cy="785.1" r="8.7" fill="url(#bGrn)"/>
<circle cx="1401.5" cy="835.3" r="10.7" fill="url(#bBlu)"/>
<circle cx="1337.3" cy="806.4" r="8.9" fill="url(#bWht)"/>
<circle cx="1388.3" cy="725.1" r="19.2" fill="url(#bRed)"/>
<circle cx="1388.3" cy="780.6" r="13.2" fill="url(#bBlk)"/>
<circle cx="1246.8" cy="707.4" r="19.2" fill="url(#bRed)"/>
</g>
</svg>
</body>
</html>
